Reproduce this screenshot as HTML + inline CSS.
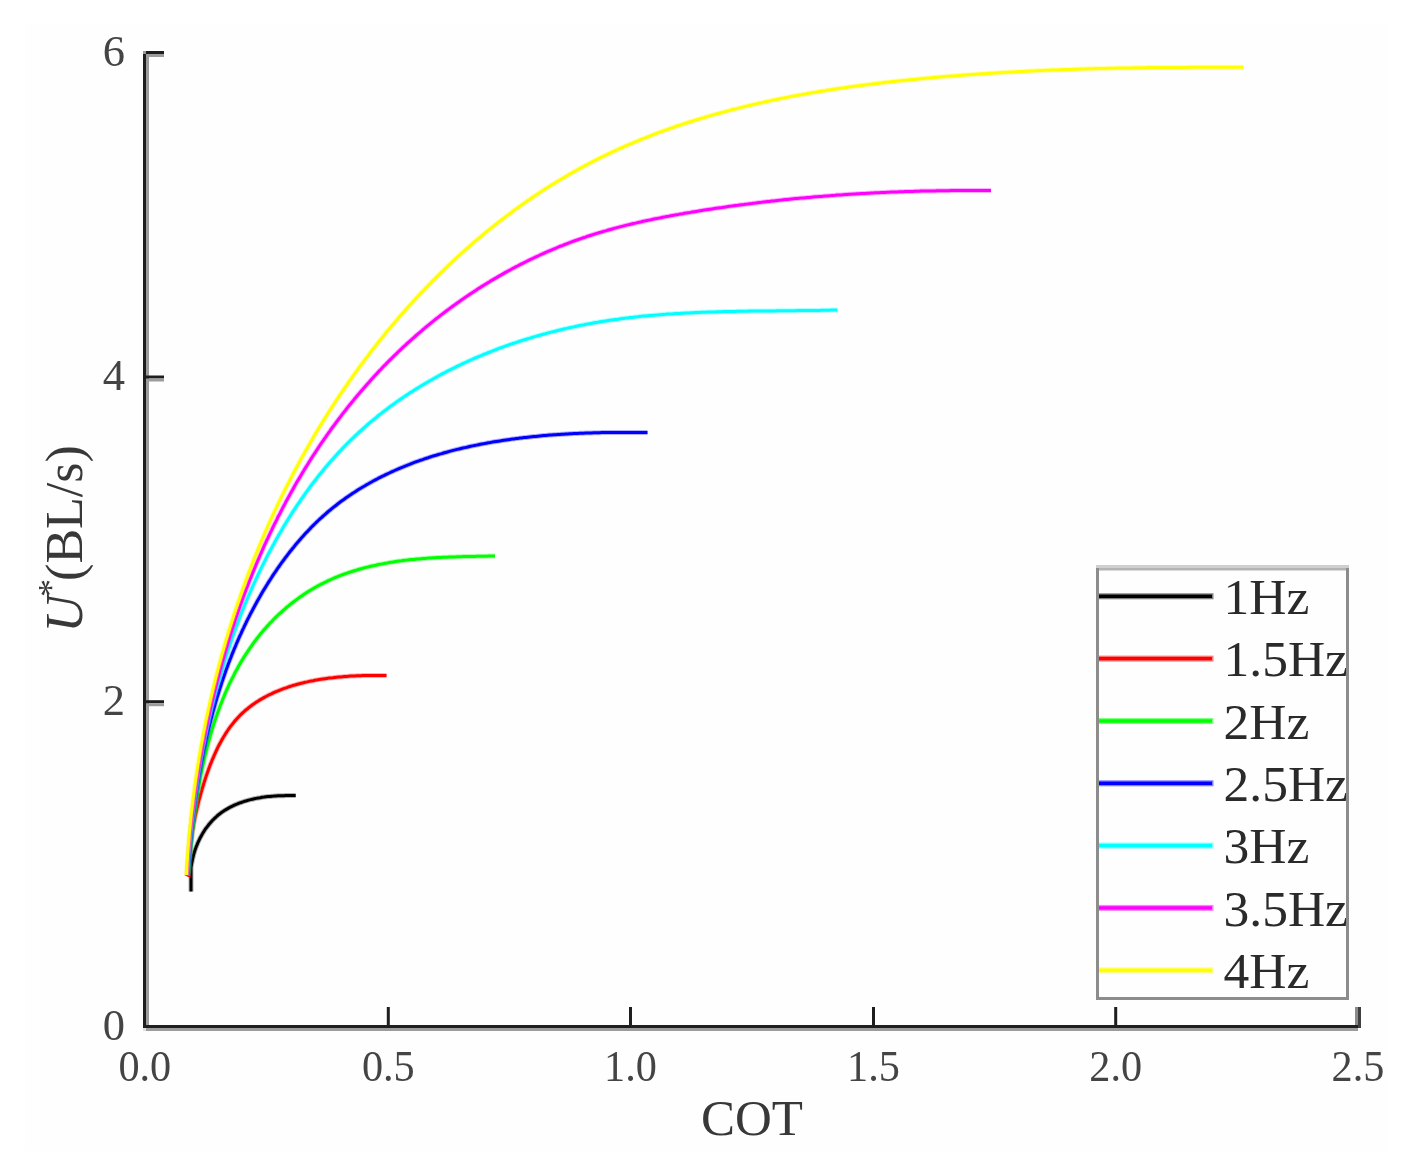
<!DOCTYPE html>
<html><head><meta charset="utf-8"><style>
html,body{margin:0;padding:0;background:#fff;}
body{width:1416px;height:1165px;overflow:hidden;position:relative;}
svg{position:absolute;left:0;top:0;filter:blur(0.5px);}
.tk{font-family:"Liberation Serif",serif;font-size:44.5px;fill:#444;}
.lg{font-family:"Liberation Serif",serif;font-size:51.5px;fill:#2a2a2a;}
.ax{font-family:"Liberation Serif",serif;font-size:51px;fill:#383838;}
</style></head><body>
<svg width="1416" height="1165" viewBox="0 0 1416 1165">
<rect x="25" y="23" width="1363" height="1128" fill="#fefefe"/>
<path d="M191.0 891.5 L191.0 889.5 L191.0 887.6 L191.0 885.6 L191.0 883.6 L191.0 881.6 L191.0 879.7 L191.0 877.7 L191.0 875.7 L191.0 873.7 L191.0 871.8 L191.0 869.8 L191.0 867.8 L191.3 865.8 L191.6 863.9 L192.0 861.9 L192.4 860.0 L192.8 858.1 L193.3 856.2 L193.8 854.2 L194.3 852.4 L194.9 850.5 L195.6 848.6 L196.2 846.7 L197.0 844.9 L197.7 843.1 L198.5 841.3 L199.4 839.5 L200.3 837.7 L201.2 836.0 L202.2 834.3 L203.2 832.6 L204.2 830.9 L205.3 829.2 L206.5 827.6 L207.7 826.1 L208.9 824.5 L210.2 823.0 L211.5 821.5 L212.8 820.1 L214.2 818.7 L215.7 817.3 L217.1 816.0 L218.6 814.7 L220.2 813.5 L221.8 812.3 L223.4 811.2 L225.1 810.1 L226.8 809.1 L228.5 808.1 L230.2 807.2 L232.0 806.3 L233.8 805.4 L235.6 804.6 L237.4 803.9 L239.2 803.1 L241.1 802.5 L243.0 801.8 L244.8 801.2 L246.7 800.7 L248.6 800.1 L250.6 799.6 L252.5 799.2 L254.4 798.8 L256.3 798.4 L258.3 798.0 L260.2 797.7 L262.2 797.3 L264.1 797.1 L266.1 796.8 L268.1 796.6 L270.0 796.4 L272.0 796.2 L274.0 796.1 L275.9 795.9 L277.9 795.8 L279.9 795.8 L281.9 795.7 L283.8 795.7 L285.8 795.6 L287.8 795.6 L289.8 795.6 L291.8 795.6 L293.7 795.6 L295.7 795.6" stroke="#000000" stroke-width="5.0" stroke-opacity="0.3" fill="none" stroke-linejoin="round"/><path d="M191.0 891.5 L191.0 889.5 L191.0 887.6 L191.0 885.6 L191.0 883.6 L191.0 881.6 L191.0 879.7 L191.0 877.7 L191.0 875.7 L191.0 873.7 L191.0 871.8 L191.0 869.8 L191.0 867.8 L191.3 865.8 L191.6 863.9 L192.0 861.9 L192.4 860.0 L192.8 858.1 L193.3 856.2 L193.8 854.2 L194.3 852.4 L194.9 850.5 L195.6 848.6 L196.2 846.7 L197.0 844.9 L197.7 843.1 L198.5 841.3 L199.4 839.5 L200.3 837.7 L201.2 836.0 L202.2 834.3 L203.2 832.6 L204.2 830.9 L205.3 829.2 L206.5 827.6 L207.7 826.1 L208.9 824.5 L210.2 823.0 L211.5 821.5 L212.8 820.1 L214.2 818.7 L215.7 817.3 L217.1 816.0 L218.6 814.7 L220.2 813.5 L221.8 812.3 L223.4 811.2 L225.1 810.1 L226.8 809.1 L228.5 808.1 L230.2 807.2 L232.0 806.3 L233.8 805.4 L235.6 804.6 L237.4 803.9 L239.2 803.1 L241.1 802.5 L243.0 801.8 L244.8 801.2 L246.7 800.7 L248.6 800.1 L250.6 799.6 L252.5 799.2 L254.4 798.8 L256.3 798.4 L258.3 798.0 L260.2 797.7 L262.2 797.3 L264.1 797.1 L266.1 796.8 L268.1 796.6 L270.0 796.4 L272.0 796.2 L274.0 796.1 L275.9 795.9 L277.9 795.8 L279.9 795.8 L281.9 795.7 L283.8 795.7 L285.8 795.6 L287.8 795.6 L289.8 795.6 L291.8 795.6 L293.7 795.6 L295.7 795.6" stroke="#000000" stroke-width="3.0" fill="none" stroke-linejoin="round"/>
<path d="M189.0 877.0 L189.0 875.0 L189.0 873.0 L189.0 871.0 L189.0 869.0 L189.1 867.0 L189.2 865.0 L189.2 863.1 L189.3 861.1 L189.4 859.1 L189.6 857.1 L189.7 855.1 L189.8 853.1 L190.0 851.1 L190.2 849.1 L190.4 847.2 L190.6 845.2 L190.8 843.2 L191.1 841.2 L191.3 839.2 L191.6 837.3 L191.8 835.3 L192.1 833.3 L192.4 831.4 L192.8 829.4 L193.1 827.4 L193.4 825.5 L193.8 823.5 L194.2 821.5 L194.6 819.6 L194.9 817.6 L195.4 815.7 L195.8 813.7 L196.2 811.8 L196.7 809.9 L197.1 807.9 L197.6 806.0 L198.1 804.0 L198.5 802.1 L199.0 800.2 L199.5 798.3 L200.1 796.3 L200.6 794.4 L201.1 792.5 L201.7 790.6 L202.2 788.7 L202.8 786.8 L203.4 784.8 L204.0 782.9 L204.6 781.0 L205.2 779.1 L205.8 777.3 L206.4 775.4 L207.1 773.5 L207.8 771.6 L208.4 769.7 L209.1 767.9 L209.8 766.0 L210.5 764.1 L211.3 762.3 L212.0 760.4 L212.8 758.6 L213.6 756.8 L214.4 754.9 L215.2 753.1 L216.0 751.3 L216.9 749.5 L217.7 747.7 L218.6 745.9 L219.5 744.2 L220.5 742.4 L221.4 740.7 L222.4 738.9 L223.4 737.2 L224.5 735.5 L225.5 733.8 L226.6 732.1 L227.7 730.5 L228.8 728.8 L230.0 727.2 L231.2 725.6 L232.4 724.1 L233.7 722.5 L234.9 721.0 L236.2 719.5 L237.6 718.0 L239.0 716.5 L240.3 715.1 L241.8 713.7 L243.2 712.4 L244.7 711.0 L246.2 709.7 L247.8 708.5 L249.3 707.2 L250.9 706.0 L252.5 704.8 L254.1 703.7 L255.8 702.6 L257.4 701.5 L259.1 700.4 L260.8 699.4 L262.6 698.4 L264.3 697.4 L266.0 696.5 L267.8 695.5 L269.6 694.6 L271.4 693.8 L273.2 692.9 L275.0 692.1 L276.8 691.3 L278.7 690.6 L280.5 689.8 L282.4 689.1 L284.3 688.4 L286.1 687.8 L288.0 687.1 L289.9 686.5 L291.8 685.9 L293.7 685.3 L295.6 684.8 L297.6 684.2 L299.5 683.7 L301.4 683.2 L303.4 682.8 L305.3 682.3 L307.2 681.9 L309.2 681.4 L311.1 681.0 L313.1 680.7 L315.0 680.3 L317.0 679.9 L319.0 679.6 L320.9 679.3 L322.9 679.0 L324.9 678.7 L326.9 678.4 L328.8 678.1 L330.8 677.9 L332.8 677.7 L334.8 677.4 L336.7 677.2 L338.7 677.0 L340.7 676.9 L342.7 676.7 L344.7 676.5 L346.7 676.4 L348.7 676.2 L350.6 676.1 L352.6 676.0 L354.6 675.9 L356.6 675.8 L358.6 675.7 L360.6 675.7 L362.6 675.6 L364.6 675.5 L366.6 675.5 L368.6 675.5 L370.6 675.4 L372.5 675.4 L374.5 675.4 L376.5 675.4 L378.5 675.4 L380.5 675.4 L382.5 675.4 L384.5 675.4 L386.5 675.4" stroke="#ff0000" stroke-width="5.0" stroke-opacity="0.3" fill="none" stroke-linejoin="round"/><path d="M189.0 877.0 L189.0 875.0 L189.0 873.0 L189.0 871.0 L189.0 869.0 L189.1 867.0 L189.2 865.0 L189.2 863.1 L189.3 861.1 L189.4 859.1 L189.6 857.1 L189.7 855.1 L189.8 853.1 L190.0 851.1 L190.2 849.1 L190.4 847.2 L190.6 845.2 L190.8 843.2 L191.1 841.2 L191.3 839.2 L191.6 837.3 L191.8 835.3 L192.1 833.3 L192.4 831.4 L192.8 829.4 L193.1 827.4 L193.4 825.5 L193.8 823.5 L194.2 821.5 L194.6 819.6 L194.9 817.6 L195.4 815.7 L195.8 813.7 L196.2 811.8 L196.7 809.9 L197.1 807.9 L197.6 806.0 L198.1 804.0 L198.5 802.1 L199.0 800.2 L199.5 798.3 L200.1 796.3 L200.6 794.4 L201.1 792.5 L201.7 790.6 L202.2 788.7 L202.8 786.8 L203.4 784.8 L204.0 782.9 L204.6 781.0 L205.2 779.1 L205.8 777.3 L206.4 775.4 L207.1 773.5 L207.8 771.6 L208.4 769.7 L209.1 767.9 L209.8 766.0 L210.5 764.1 L211.3 762.3 L212.0 760.4 L212.8 758.6 L213.6 756.8 L214.4 754.9 L215.2 753.1 L216.0 751.3 L216.9 749.5 L217.7 747.7 L218.6 745.9 L219.5 744.2 L220.5 742.4 L221.4 740.7 L222.4 738.9 L223.4 737.2 L224.5 735.5 L225.5 733.8 L226.6 732.1 L227.7 730.5 L228.8 728.8 L230.0 727.2 L231.2 725.6 L232.4 724.1 L233.7 722.5 L234.9 721.0 L236.2 719.5 L237.6 718.0 L239.0 716.5 L240.3 715.1 L241.8 713.7 L243.2 712.4 L244.7 711.0 L246.2 709.7 L247.8 708.5 L249.3 707.2 L250.9 706.0 L252.5 704.8 L254.1 703.7 L255.8 702.6 L257.4 701.5 L259.1 700.4 L260.8 699.4 L262.6 698.4 L264.3 697.4 L266.0 696.5 L267.8 695.5 L269.6 694.6 L271.4 693.8 L273.2 692.9 L275.0 692.1 L276.8 691.3 L278.7 690.6 L280.5 689.8 L282.4 689.1 L284.3 688.4 L286.1 687.8 L288.0 687.1 L289.9 686.5 L291.8 685.9 L293.7 685.3 L295.6 684.8 L297.6 684.2 L299.5 683.7 L301.4 683.2 L303.4 682.8 L305.3 682.3 L307.2 681.9 L309.2 681.4 L311.1 681.0 L313.1 680.7 L315.0 680.3 L317.0 679.9 L319.0 679.6 L320.9 679.3 L322.9 679.0 L324.9 678.7 L326.9 678.4 L328.8 678.1 L330.8 677.9 L332.8 677.7 L334.8 677.4 L336.7 677.2 L338.7 677.0 L340.7 676.9 L342.7 676.7 L344.7 676.5 L346.7 676.4 L348.7 676.2 L350.6 676.1 L352.6 676.0 L354.6 675.9 L356.6 675.8 L358.6 675.7 L360.6 675.7 L362.6 675.6 L364.6 675.5 L366.6 675.5 L368.6 675.5 L370.6 675.4 L372.5 675.4 L374.5 675.4 L376.5 675.4 L378.5 675.4 L380.5 675.4 L382.5 675.4 L384.5 675.4 L386.5 675.4" stroke="#ff0000" stroke-width="3.0" fill="none" stroke-linejoin="round"/>
<path d="M188.5 876.0 L188.6 874.0 L188.8 872.0 L188.9 870.0 L189.1 868.0 L189.2 866.0 L189.4 864.0 L189.6 862.1 L189.7 860.1 L189.9 858.1 L190.1 856.1 L190.2 854.1 L190.4 852.1 L190.6 850.1 L190.8 848.1 L191.0 846.1 L191.2 844.2 L191.4 842.2 L191.6 840.2 L191.8 838.2 L192.0 836.2 L192.2 834.2 L192.4 832.2 L192.6 830.2 L192.8 828.3 L193.1 826.3 L193.3 824.3 L193.5 822.3 L193.8 820.3 L194.0 818.3 L194.3 816.4 L194.5 814.4 L194.8 812.4 L195.1 810.4 L195.4 808.5 L195.6 806.5 L195.9 804.5 L196.2 802.5 L196.5 800.5 L196.8 798.6 L197.1 796.6 L197.4 794.6 L197.8 792.7 L198.1 790.7 L198.4 788.7 L198.8 786.7 L199.1 784.8 L199.5 782.8 L199.8 780.9 L200.2 778.9 L200.5 776.9 L200.9 775.0 L201.3 773.0 L201.7 771.0 L202.1 769.1 L202.5 767.1 L202.9 765.2 L203.4 763.2 L203.8 761.3 L204.2 759.3 L204.7 757.4 L205.1 755.4 L205.6 753.5 L206.1 751.6 L206.6 749.6 L207.0 747.7 L207.5 745.8 L208.0 743.8 L208.6 741.9 L209.1 740.0 L209.6 738.0 L210.2 736.1 L210.7 734.2 L211.3 732.3 L211.8 730.4 L212.4 728.5 L213.0 726.5 L213.6 724.6 L214.2 722.7 L214.8 720.8 L215.5 718.9 L216.1 717.1 L216.8 715.2 L217.4 713.3 L218.1 711.4 L218.8 709.5 L219.5 707.7 L220.2 705.8 L220.9 703.9 L221.6 702.1 L222.4 700.2 L223.1 698.4 L223.9 696.5 L224.6 694.7 L225.4 692.8 L226.2 691.0 L227.0 689.2 L227.9 687.4 L228.7 685.5 L229.5 683.7 L230.4 681.9 L231.3 680.1 L232.2 678.3 L233.1 676.6 L234.0 674.8 L234.9 673.0 L235.8 671.2 L236.8 669.5 L237.8 667.7 L238.7 666.0 L239.7 664.3 L240.7 662.5 L241.7 660.8 L242.8 659.1 L243.8 657.4 L244.9 655.7 L246.0 654.0 L247.1 652.4 L248.2 650.7 L249.3 649.1 L250.4 647.4 L251.6 645.8 L252.7 644.2 L253.9 642.5 L255.1 640.9 L256.3 639.3 L257.5 637.8 L258.8 636.2 L260.0 634.6 L261.3 633.1 L262.5 631.6 L263.8 630.0 L265.2 628.5 L266.5 627.0 L267.8 625.5 L269.2 624.1 L270.5 622.6 L271.9 621.2 L273.3 619.7 L274.7 618.3 L276.1 616.9 L277.6 615.5 L279.0 614.2 L280.5 612.8 L282.0 611.5 L283.5 610.1 L285.0 608.8 L286.5 607.5 L288.0 606.3 L289.6 605.0 L291.1 603.7 L292.7 602.5 L294.3 601.3 L295.9 600.1 L297.5 598.9 L299.1 597.7 L300.7 596.6 L302.4 595.4 L304.0 594.3 L305.7 593.2 L307.4 592.1 L309.0 591.1 L310.8 590.0 L312.5 589.0 L314.2 588.0 L315.9 587.0 L317.7 586.0 L319.4 585.1 L321.2 584.2 L323.0 583.3 L324.8 582.4 L326.6 581.5 L328.4 580.6 L330.2 579.8 L332.0 579.0 L333.8 578.2 L335.7 577.4 L337.5 576.7 L339.4 575.9 L341.3 575.2 L343.1 574.5 L345.0 573.8 L346.9 573.2 L348.8 572.5 L350.7 571.9 L352.6 571.3 L354.5 570.7 L356.4 570.1 L358.3 569.5 L360.2 569.0 L362.1 568.5 L364.1 567.9 L366.0 567.4 L367.9 567.0 L369.9 566.5 L371.8 566.0 L373.8 565.6 L375.7 565.2 L377.7 564.7 L379.6 564.3 L381.6 564.0 L383.6 563.6 L385.5 563.2 L387.5 562.9 L389.5 562.5 L391.4 562.2 L393.4 561.9 L395.4 561.6 L397.4 561.3 L399.3 561.0 L401.3 560.8 L403.3 560.5 L405.3 560.3 L407.3 560.1 L409.2 559.8 L411.2 559.6 L413.2 559.4 L415.2 559.2 L417.2 559.0 L419.2 558.9 L421.2 558.7 L423.2 558.5 L425.1 558.4 L427.1 558.2 L429.1 558.1 L431.1 558.0 L433.1 557.8 L435.1 557.7 L437.1 557.6 L439.1 557.5 L441.1 557.4 L443.1 557.3 L445.1 557.2 L447.1 557.2 L449.1 557.1 L451.1 557.0 L453.1 556.9 L455.1 556.9 L457.1 556.8 L459.1 556.8 L461.1 556.7 L463.1 556.6 L465.0 556.6 L467.0 556.6 L469.0 556.5 L471.0 556.5 L473.0 556.4 L475.0 556.4 L477.0 556.3 L479.0 556.3 L481.0 556.3 L483.0 556.2 L485.0 556.2 L487.0 556.2 L489.0 556.1 L491.0 556.1 L493.0 556.0 L495.0 556.0" stroke="#00ff00" stroke-width="5.0" stroke-opacity="0.3" fill="none" stroke-linejoin="round"/><path d="M188.5 876.0 L188.6 874.0 L188.8 872.0 L188.9 870.0 L189.1 868.0 L189.2 866.0 L189.4 864.0 L189.6 862.1 L189.7 860.1 L189.9 858.1 L190.1 856.1 L190.2 854.1 L190.4 852.1 L190.6 850.1 L190.8 848.1 L191.0 846.1 L191.2 844.2 L191.4 842.2 L191.6 840.2 L191.8 838.2 L192.0 836.2 L192.2 834.2 L192.4 832.2 L192.6 830.2 L192.8 828.3 L193.1 826.3 L193.3 824.3 L193.5 822.3 L193.8 820.3 L194.0 818.3 L194.3 816.4 L194.5 814.4 L194.8 812.4 L195.1 810.4 L195.4 808.5 L195.6 806.5 L195.9 804.5 L196.2 802.5 L196.5 800.5 L196.8 798.6 L197.1 796.6 L197.4 794.6 L197.8 792.7 L198.1 790.7 L198.4 788.7 L198.8 786.7 L199.1 784.8 L199.5 782.8 L199.8 780.9 L200.2 778.9 L200.5 776.9 L200.9 775.0 L201.3 773.0 L201.7 771.0 L202.1 769.1 L202.5 767.1 L202.9 765.2 L203.4 763.2 L203.8 761.3 L204.2 759.3 L204.7 757.4 L205.1 755.4 L205.6 753.5 L206.1 751.6 L206.6 749.6 L207.0 747.7 L207.5 745.8 L208.0 743.8 L208.6 741.9 L209.1 740.0 L209.6 738.0 L210.2 736.1 L210.7 734.2 L211.3 732.3 L211.8 730.4 L212.4 728.5 L213.0 726.5 L213.6 724.6 L214.2 722.7 L214.8 720.8 L215.5 718.9 L216.1 717.1 L216.8 715.2 L217.4 713.3 L218.1 711.4 L218.8 709.5 L219.5 707.7 L220.2 705.8 L220.9 703.9 L221.6 702.1 L222.4 700.2 L223.1 698.4 L223.9 696.5 L224.6 694.7 L225.4 692.8 L226.2 691.0 L227.0 689.2 L227.9 687.4 L228.7 685.5 L229.5 683.7 L230.4 681.9 L231.3 680.1 L232.2 678.3 L233.1 676.6 L234.0 674.8 L234.9 673.0 L235.8 671.2 L236.8 669.5 L237.8 667.7 L238.7 666.0 L239.7 664.3 L240.7 662.5 L241.7 660.8 L242.8 659.1 L243.8 657.4 L244.9 655.7 L246.0 654.0 L247.1 652.4 L248.2 650.7 L249.3 649.1 L250.4 647.4 L251.6 645.8 L252.7 644.2 L253.9 642.5 L255.1 640.9 L256.3 639.3 L257.5 637.8 L258.8 636.2 L260.0 634.6 L261.3 633.1 L262.5 631.6 L263.8 630.0 L265.2 628.5 L266.5 627.0 L267.8 625.5 L269.2 624.1 L270.5 622.6 L271.9 621.2 L273.3 619.7 L274.7 618.3 L276.1 616.9 L277.6 615.5 L279.0 614.2 L280.5 612.8 L282.0 611.5 L283.5 610.1 L285.0 608.8 L286.5 607.5 L288.0 606.3 L289.6 605.0 L291.1 603.7 L292.7 602.5 L294.3 601.3 L295.9 600.1 L297.5 598.9 L299.1 597.7 L300.7 596.6 L302.4 595.4 L304.0 594.3 L305.7 593.2 L307.4 592.1 L309.0 591.1 L310.8 590.0 L312.5 589.0 L314.2 588.0 L315.9 587.0 L317.7 586.0 L319.4 585.1 L321.2 584.2 L323.0 583.3 L324.8 582.4 L326.6 581.5 L328.4 580.6 L330.2 579.8 L332.0 579.0 L333.8 578.2 L335.7 577.4 L337.5 576.7 L339.4 575.9 L341.3 575.2 L343.1 574.5 L345.0 573.8 L346.9 573.2 L348.8 572.5 L350.7 571.9 L352.6 571.3 L354.5 570.7 L356.4 570.1 L358.3 569.5 L360.2 569.0 L362.1 568.5 L364.1 567.9 L366.0 567.4 L367.9 567.0 L369.9 566.5 L371.8 566.0 L373.8 565.6 L375.7 565.2 L377.7 564.7 L379.6 564.3 L381.6 564.0 L383.6 563.6 L385.5 563.2 L387.5 562.9 L389.5 562.5 L391.4 562.2 L393.4 561.9 L395.4 561.6 L397.4 561.3 L399.3 561.0 L401.3 560.8 L403.3 560.5 L405.3 560.3 L407.3 560.1 L409.2 559.8 L411.2 559.6 L413.2 559.4 L415.2 559.2 L417.2 559.0 L419.2 558.9 L421.2 558.7 L423.2 558.5 L425.1 558.4 L427.1 558.2 L429.1 558.1 L431.1 558.0 L433.1 557.8 L435.1 557.7 L437.1 557.6 L439.1 557.5 L441.1 557.4 L443.1 557.3 L445.1 557.2 L447.1 557.2 L449.1 557.1 L451.1 557.0 L453.1 556.9 L455.1 556.9 L457.1 556.8 L459.1 556.8 L461.1 556.7 L463.1 556.6 L465.0 556.6 L467.0 556.6 L469.0 556.5 L471.0 556.5 L473.0 556.4 L475.0 556.4 L477.0 556.3 L479.0 556.3 L481.0 556.3 L483.0 556.2 L485.0 556.2 L487.0 556.2 L489.0 556.1 L491.0 556.1 L493.0 556.0 L495.0 556.0" stroke="#00ff00" stroke-width="3.0" fill="none" stroke-linejoin="round"/>
<path d="M188.0 876.0 L188.1 874.0 L188.3 872.0 L188.4 870.0 L188.5 868.0 L188.7 866.0 L188.8 864.0 L189.0 862.1 L189.1 860.1 L189.3 858.1 L189.4 856.1 L189.6 854.1 L189.7 852.1 L189.9 850.1 L190.1 848.1 L190.2 846.1 L190.4 844.1 L190.6 842.2 L190.8 840.2 L191.0 838.2 L191.2 836.2 L191.4 834.2 L191.6 832.2 L191.8 830.2 L192.0 828.3 L192.2 826.3 L192.4 824.3 L192.6 822.3 L192.8 820.3 L193.1 818.3 L193.3 816.3 L193.5 814.4 L193.8 812.4 L194.0 810.4 L194.3 808.4 L194.5 806.4 L194.8 804.5 L195.1 802.5 L195.3 800.5 L195.6 798.5 L195.9 796.5 L196.2 794.6 L196.4 792.6 L196.7 790.6 L197.0 788.6 L197.3 786.7 L197.6 784.7 L197.9 782.7 L198.3 780.8 L198.6 778.8 L198.9 776.8 L199.2 774.8 L199.6 772.9 L199.9 770.9 L200.3 768.9 L200.6 767.0 L201.0 765.0 L201.3 763.1 L201.7 761.1 L202.1 759.1 L202.5 757.2 L202.8 755.2 L203.2 753.3 L203.6 751.3 L204.0 749.3 L204.4 747.4 L204.9 745.4 L205.3 743.5 L205.7 741.5 L206.1 739.6 L206.6 737.6 L207.0 735.7 L207.5 733.7 L207.9 731.8 L208.4 729.9 L208.8 727.9 L209.3 726.0 L209.8 724.0 L210.3 722.1 L210.8 720.2 L211.3 718.2 L211.8 716.3 L212.3 714.4 L212.8 712.4 L213.3 710.5 L213.9 708.6 L214.4 706.7 L215.0 704.7 L215.5 702.8 L216.1 700.9 L216.6 699.0 L217.2 697.1 L217.8 695.2 L218.4 693.3 L219.0 691.4 L219.6 689.5 L220.2 687.6 L220.8 685.7 L221.4 683.8 L222.0 681.9 L222.7 680.0 L223.3 678.1 L224.0 676.2 L224.6 674.3 L225.3 672.4 L225.9 670.5 L226.6 668.7 L227.3 666.8 L228.0 664.9 L228.7 663.0 L229.4 661.2 L230.1 659.3 L230.9 657.5 L231.6 655.6 L232.3 653.7 L233.1 651.9 L233.8 650.0 L234.6 648.2 L235.4 646.4 L236.1 644.5 L236.9 642.7 L237.7 640.8 L238.5 639.0 L239.3 637.2 L240.1 635.4 L241.0 633.6 L241.8 631.7 L242.6 629.9 L243.5 628.1 L244.3 626.3 L245.2 624.5 L246.1 622.7 L246.9 620.9 L247.8 619.1 L248.7 617.4 L249.6 615.6 L250.5 613.8 L251.5 612.0 L252.4 610.3 L253.3 608.5 L254.3 606.7 L255.2 605.0 L256.2 603.2 L257.1 601.5 L258.1 599.7 L259.1 598.0 L260.1 596.3 L261.1 594.5 L262.1 592.8 L263.1 591.1 L264.1 589.4 L265.2 587.7 L266.2 586.0 L267.3 584.3 L268.3 582.6 L269.4 580.9 L270.5 579.2 L271.6 577.5 L272.6 575.9 L273.7 574.2 L274.9 572.5 L276.0 570.9 L277.1 569.2 L278.2 567.6 L279.4 566.0 L280.5 564.3 L281.7 562.7 L282.9 561.1 L284.1 559.5 L285.2 557.9 L286.5 556.3 L287.7 554.7 L288.9 553.1 L290.1 551.5 L291.4 550.0 L292.6 548.4 L293.9 546.9 L295.1 545.3 L296.4 543.8 L297.7 542.3 L299.0 540.8 L300.3 539.3 L301.6 537.8 L303.0 536.3 L304.3 534.8 L305.6 533.3 L307.0 531.9 L308.4 530.4 L309.8 529.0 L311.1 527.5 L312.5 526.1 L314.0 524.7 L315.4 523.3 L316.8 521.9 L318.3 520.5 L319.7 519.2 L321.2 517.8 L322.7 516.5 L324.2 515.2 L325.7 513.8 L327.2 512.5 L328.7 511.2 L330.2 510.0 L331.8 508.7 L333.3 507.4 L334.9 506.2 L336.5 505.0 L338.0 503.7 L339.6 502.5 L341.2 501.3 L342.8 500.2 L344.5 499.0 L346.1 497.8 L347.7 496.7 L349.4 495.6 L351.0 494.5 L352.7 493.3 L354.4 492.3 L356.0 491.2 L357.7 490.1 L359.4 489.0 L361.1 488.0 L362.8 487.0 L364.6 486.0 L366.3 484.9 L368.0 484.0 L369.7 483.0 L371.5 482.0 L373.2 481.0 L375.0 480.1 L376.8 479.2 L378.5 478.2 L380.3 477.3 L382.1 476.4 L383.9 475.6 L385.7 474.7 L387.5 473.8 L389.3 473.0 L391.1 472.1 L392.9 471.3 L394.7 470.5 L396.6 469.7 L398.4 468.9 L400.2 468.1 L402.1 467.3 L403.9 466.6 L405.8 465.8 L407.6 465.1 L409.5 464.4 L411.4 463.6 L413.2 462.9 L415.1 462.2 L417.0 461.5 L418.8 460.9 L420.7 460.2 L422.6 459.6 L424.5 458.9 L426.4 458.3 L428.3 457.7 L430.2 457.0 L432.1 456.4 L434.0 455.8 L435.9 455.3 L437.8 454.7 L439.7 454.1 L441.7 453.6 L443.6 453.0 L445.5 452.5 L447.4 452.0 L449.4 451.4 L451.3 450.9 L453.2 450.4 L455.2 449.9 L457.1 449.4 L459.0 449.0 L461.0 448.5 L462.9 448.0 L464.9 447.6 L466.8 447.2 L468.8 446.7 L470.7 446.3 L472.7 445.9 L474.6 445.5 L476.6 445.1 L478.5 444.7 L480.5 444.3 L482.4 443.9 L484.4 443.6 L486.4 443.2 L488.3 442.8 L490.3 442.5 L492.3 442.1 L494.2 441.8 L496.2 441.5 L498.2 441.2 L500.1 440.9 L502.1 440.6 L504.1 440.3 L506.1 440.0 L508.0 439.7 L510.0 439.4 L512.0 439.1 L514.0 438.9 L516.0 438.6 L517.9 438.4 L519.9 438.1 L521.9 437.9 L523.9 437.6 L525.9 437.4 L527.9 437.2 L529.8 437.0 L531.8 436.8 L533.8 436.6 L535.8 436.4 L537.8 436.2 L539.8 436.0 L541.8 435.8 L543.8 435.6 L545.7 435.5 L547.7 435.3 L549.7 435.1 L551.7 435.0 L553.7 434.8 L555.7 434.7 L557.7 434.5 L559.7 434.4 L561.7 434.3 L563.7 434.2 L565.7 434.0 L567.6 433.9 L569.6 433.8 L571.6 433.7 L573.6 433.6 L575.6 433.5 L577.6 433.4 L579.6 433.3 L581.6 433.2 L583.6 433.2 L585.6 433.1 L587.6 433.0 L589.6 433.0 L591.6 432.9 L593.6 432.8 L595.6 432.8 L597.6 432.7 L599.6 432.7 L601.6 432.6 L603.6 432.6 L605.6 432.6 L607.5 432.5 L609.5 432.5 L611.5 432.5 L613.5 432.4 L615.5 432.4 L617.5 432.4 L619.5 432.4 L621.5 432.4 L623.5 432.4 L625.5 432.4 L627.5 432.4 L629.5 432.4 L631.5 432.4 L633.5 432.4 L635.5 432.4 L637.5 432.4 L639.5 432.4 L641.5 432.4 L643.5 432.4 L645.5 432.4 L647.5 432.4" stroke="#0000ff" stroke-width="5.0" stroke-opacity="0.3" fill="none" stroke-linejoin="round"/><path d="M188.0 876.0 L188.1 874.0 L188.3 872.0 L188.4 870.0 L188.5 868.0 L188.7 866.0 L188.8 864.0 L189.0 862.1 L189.1 860.1 L189.3 858.1 L189.4 856.1 L189.6 854.1 L189.7 852.1 L189.9 850.1 L190.1 848.1 L190.2 846.1 L190.4 844.1 L190.6 842.2 L190.8 840.2 L191.0 838.2 L191.2 836.2 L191.4 834.2 L191.6 832.2 L191.8 830.2 L192.0 828.3 L192.2 826.3 L192.4 824.3 L192.6 822.3 L192.8 820.3 L193.1 818.3 L193.3 816.3 L193.5 814.4 L193.8 812.4 L194.0 810.4 L194.3 808.4 L194.5 806.4 L194.8 804.5 L195.1 802.5 L195.3 800.5 L195.6 798.5 L195.9 796.5 L196.2 794.6 L196.4 792.6 L196.7 790.6 L197.0 788.6 L197.3 786.7 L197.6 784.7 L197.9 782.7 L198.3 780.8 L198.6 778.8 L198.9 776.8 L199.2 774.8 L199.6 772.9 L199.9 770.9 L200.3 768.9 L200.6 767.0 L201.0 765.0 L201.3 763.1 L201.7 761.1 L202.1 759.1 L202.5 757.2 L202.8 755.2 L203.2 753.3 L203.6 751.3 L204.0 749.3 L204.4 747.4 L204.9 745.4 L205.3 743.5 L205.7 741.5 L206.1 739.6 L206.6 737.6 L207.0 735.7 L207.5 733.7 L207.9 731.8 L208.4 729.9 L208.8 727.9 L209.3 726.0 L209.8 724.0 L210.3 722.1 L210.8 720.2 L211.3 718.2 L211.8 716.3 L212.3 714.4 L212.8 712.4 L213.3 710.5 L213.9 708.6 L214.4 706.7 L215.0 704.7 L215.5 702.8 L216.1 700.9 L216.6 699.0 L217.2 697.1 L217.8 695.2 L218.4 693.3 L219.0 691.4 L219.6 689.5 L220.2 687.6 L220.8 685.7 L221.4 683.8 L222.0 681.9 L222.7 680.0 L223.3 678.1 L224.0 676.2 L224.6 674.3 L225.3 672.4 L225.9 670.5 L226.6 668.7 L227.3 666.8 L228.0 664.9 L228.7 663.0 L229.4 661.2 L230.1 659.3 L230.9 657.5 L231.6 655.6 L232.3 653.7 L233.1 651.9 L233.8 650.0 L234.6 648.2 L235.4 646.4 L236.1 644.5 L236.9 642.7 L237.7 640.8 L238.5 639.0 L239.3 637.2 L240.1 635.4 L241.0 633.6 L241.8 631.7 L242.6 629.9 L243.5 628.1 L244.3 626.3 L245.2 624.5 L246.1 622.7 L246.9 620.9 L247.8 619.1 L248.7 617.4 L249.6 615.6 L250.5 613.8 L251.5 612.0 L252.4 610.3 L253.3 608.5 L254.3 606.7 L255.2 605.0 L256.2 603.2 L257.1 601.5 L258.1 599.7 L259.1 598.0 L260.1 596.3 L261.1 594.5 L262.1 592.8 L263.1 591.1 L264.1 589.4 L265.2 587.7 L266.2 586.0 L267.3 584.3 L268.3 582.6 L269.4 580.9 L270.5 579.2 L271.6 577.5 L272.6 575.9 L273.7 574.2 L274.9 572.5 L276.0 570.9 L277.1 569.2 L278.2 567.6 L279.4 566.0 L280.5 564.3 L281.7 562.7 L282.9 561.1 L284.1 559.5 L285.2 557.9 L286.5 556.3 L287.7 554.7 L288.9 553.1 L290.1 551.5 L291.4 550.0 L292.6 548.4 L293.9 546.9 L295.1 545.3 L296.4 543.8 L297.7 542.3 L299.0 540.8 L300.3 539.3 L301.6 537.8 L303.0 536.3 L304.3 534.8 L305.6 533.3 L307.0 531.9 L308.4 530.4 L309.8 529.0 L311.1 527.5 L312.5 526.1 L314.0 524.7 L315.4 523.3 L316.8 521.9 L318.3 520.5 L319.7 519.2 L321.2 517.8 L322.7 516.5 L324.2 515.2 L325.7 513.8 L327.2 512.5 L328.7 511.2 L330.2 510.0 L331.8 508.7 L333.3 507.4 L334.9 506.2 L336.5 505.0 L338.0 503.7 L339.6 502.5 L341.2 501.3 L342.8 500.2 L344.5 499.0 L346.1 497.8 L347.7 496.7 L349.4 495.6 L351.0 494.5 L352.7 493.3 L354.4 492.3 L356.0 491.2 L357.7 490.1 L359.4 489.0 L361.1 488.0 L362.8 487.0 L364.6 486.0 L366.3 484.9 L368.0 484.0 L369.7 483.0 L371.5 482.0 L373.2 481.0 L375.0 480.1 L376.8 479.2 L378.5 478.2 L380.3 477.3 L382.1 476.4 L383.9 475.6 L385.7 474.7 L387.5 473.8 L389.3 473.0 L391.1 472.1 L392.9 471.3 L394.7 470.5 L396.6 469.7 L398.4 468.9 L400.2 468.1 L402.1 467.3 L403.9 466.6 L405.8 465.8 L407.6 465.1 L409.5 464.4 L411.4 463.6 L413.2 462.9 L415.1 462.2 L417.0 461.5 L418.8 460.9 L420.7 460.2 L422.6 459.6 L424.5 458.9 L426.4 458.3 L428.3 457.7 L430.2 457.0 L432.1 456.4 L434.0 455.8 L435.9 455.3 L437.8 454.7 L439.7 454.1 L441.7 453.6 L443.6 453.0 L445.5 452.5 L447.4 452.0 L449.4 451.4 L451.3 450.9 L453.2 450.4 L455.2 449.9 L457.1 449.4 L459.0 449.0 L461.0 448.5 L462.9 448.0 L464.9 447.6 L466.8 447.2 L468.8 446.7 L470.7 446.3 L472.7 445.9 L474.6 445.5 L476.6 445.1 L478.5 444.7 L480.5 444.3 L482.4 443.9 L484.4 443.6 L486.4 443.2 L488.3 442.8 L490.3 442.5 L492.3 442.1 L494.2 441.8 L496.2 441.5 L498.2 441.2 L500.1 440.9 L502.1 440.6 L504.1 440.3 L506.1 440.0 L508.0 439.7 L510.0 439.4 L512.0 439.1 L514.0 438.9 L516.0 438.6 L517.9 438.4 L519.9 438.1 L521.9 437.9 L523.9 437.6 L525.9 437.4 L527.9 437.2 L529.8 437.0 L531.8 436.8 L533.8 436.6 L535.8 436.4 L537.8 436.2 L539.8 436.0 L541.8 435.8 L543.8 435.6 L545.7 435.5 L547.7 435.3 L549.7 435.1 L551.7 435.0 L553.7 434.8 L555.7 434.7 L557.7 434.5 L559.7 434.4 L561.7 434.3 L563.7 434.2 L565.7 434.0 L567.6 433.9 L569.6 433.8 L571.6 433.7 L573.6 433.6 L575.6 433.5 L577.6 433.4 L579.6 433.3 L581.6 433.2 L583.6 433.2 L585.6 433.1 L587.6 433.0 L589.6 433.0 L591.6 432.9 L593.6 432.8 L595.6 432.8 L597.6 432.7 L599.6 432.7 L601.6 432.6 L603.6 432.6 L605.6 432.6 L607.5 432.5 L609.5 432.5 L611.5 432.5 L613.5 432.4 L615.5 432.4 L617.5 432.4 L619.5 432.4 L621.5 432.4 L623.5 432.4 L625.5 432.4 L627.5 432.4 L629.5 432.4 L631.5 432.4 L633.5 432.4 L635.5 432.4 L637.5 432.4 L639.5 432.4 L641.5 432.4 L643.5 432.4 L645.5 432.4 L647.5 432.4" stroke="#0000ff" stroke-width="3.0" fill="none" stroke-linejoin="round"/>
<path d="M187.5 876.0 L187.6 874.0 L187.8 872.0 L187.9 870.0 L188.0 868.0 L188.2 866.0 L188.3 864.0 L188.5 862.0 L188.6 860.0 L188.8 858.0 L188.9 856.0 L189.1 854.1 L189.2 852.1 L189.4 850.1 L189.6 848.1 L189.8 846.1 L189.9 844.1 L190.1 842.1 L190.3 840.1 L190.5 838.1 L190.7 836.1 L190.9 834.1 L191.1 832.2 L191.3 830.2 L191.5 828.2 L191.7 826.2 L191.9 824.2 L192.1 822.2 L192.3 820.2 L192.6 818.2 L192.8 816.2 L193.0 814.3 L193.3 812.3 L193.5 810.3 L193.7 808.3 L194.0 806.3 L194.2 804.3 L194.5 802.4 L194.8 800.4 L195.0 798.4 L195.3 796.4 L195.6 794.4 L195.8 792.4 L196.1 790.5 L196.4 788.5 L196.7 786.5 L197.0 784.5 L197.3 782.6 L197.6 780.6 L197.9 778.6 L198.2 776.6 L198.5 774.6 L198.8 772.7 L199.1 770.7 L199.5 768.7 L199.8 766.8 L200.1 764.8 L200.5 762.8 L200.8 760.8 L201.1 758.9 L201.5 756.9 L201.9 754.9 L202.2 753.0 L202.6 751.0 L202.9 749.0 L203.3 747.1 L203.7 745.1 L204.1 743.1 L204.5 741.2 L204.9 739.2 L205.2 737.3 L205.6 735.3 L206.1 733.3 L206.5 731.4 L206.9 729.4 L207.3 727.5 L207.7 725.5 L208.1 723.6 L208.6 721.6 L209.0 719.7 L209.5 717.7 L209.9 715.8 L210.4 713.8 L210.8 711.9 L211.3 709.9 L211.7 708.0 L212.2 706.0 L212.7 704.1 L213.2 702.2 L213.7 700.2 L214.1 698.3 L214.6 696.3 L215.1 694.4 L215.7 692.5 L216.2 690.5 L216.7 688.6 L217.2 686.7 L217.7 684.8 L218.3 682.8 L218.8 680.9 L219.3 679.0 L219.9 677.0 L220.4 675.1 L221.0 673.2 L221.6 671.3 L222.1 669.4 L222.7 667.5 L223.3 665.5 L223.9 663.6 L224.4 661.7 L225.0 659.8 L225.6 657.9 L226.2 656.0 L226.9 654.1 L227.5 652.2 L228.1 650.3 L228.7 648.4 L229.4 646.5 L230.0 644.6 L230.6 642.7 L231.3 640.8 L231.9 638.9 L232.6 637.0 L233.3 635.1 L233.9 633.3 L234.6 631.4 L235.3 629.5 L236.0 627.6 L236.7 625.7 L237.4 623.9 L238.1 622.0 L238.8 620.1 L239.5 618.3 L240.2 616.4 L240.9 614.5 L241.7 612.7 L242.4 610.8 L243.1 609.0 L243.9 607.1 L244.6 605.3 L245.4 603.4 L246.2 601.6 L246.9 599.7 L247.7 597.9 L248.5 596.0 L249.3 594.2 L250.1 592.4 L250.9 590.5 L251.7 588.7 L252.5 586.9 L253.3 585.0 L254.1 583.2 L255.0 581.4 L255.8 579.6 L256.6 577.8 L257.5 576.0 L258.3 574.1 L259.2 572.3 L260.1 570.5 L260.9 568.7 L261.8 566.9 L262.7 565.1 L263.6 563.4 L264.5 561.6 L265.4 559.8 L266.3 558.0 L267.2 556.2 L268.1 554.4 L269.0 552.7 L270.0 550.9 L270.9 549.1 L271.9 547.4 L272.8 545.6 L273.8 543.9 L274.7 542.1 L275.7 540.4 L276.7 538.6 L277.7 536.9 L278.7 535.1 L279.7 533.4 L280.7 531.7 L281.7 530.0 L282.7 528.2 L283.7 526.5 L284.7 524.8 L285.8 523.1 L286.8 521.4 L287.9 519.7 L288.9 518.0 L290.0 516.3 L291.1 514.6 L292.1 512.9 L293.2 511.2 L294.3 509.6 L295.4 507.9 L296.5 506.2 L297.6 504.6 L298.8 502.9 L299.9 501.3 L301.0 499.6 L302.2 498.0 L303.3 496.3 L304.5 494.7 L305.6 493.1 L306.8 491.5 L308.0 489.8 L309.2 488.2 L310.3 486.6 L311.5 485.0 L312.7 483.4 L314.0 481.8 L315.2 480.3 L316.4 478.7 L317.6 477.1 L318.9 475.5 L320.1 474.0 L321.4 472.4 L322.7 470.9 L323.9 469.3 L325.2 467.8 L326.5 466.3 L327.8 464.7 L329.1 463.2 L330.4 461.7 L331.7 460.2 L333.1 458.7 L334.4 457.2 L335.7 455.7 L337.1 454.3 L338.4 452.8 L339.8 451.3 L341.2 449.9 L342.5 448.4 L343.9 447.0 L345.3 445.6 L346.7 444.1 L348.1 442.7 L349.6 441.3 L351.0 439.9 L352.4 438.5 L353.9 437.1 L355.3 435.7 L356.8 434.4 L358.2 433.0 L359.7 431.7 L361.2 430.3 L362.7 429.0 L364.2 427.6 L365.7 426.3 L367.2 425.0 L368.7 423.7 L370.2 422.4 L371.7 421.1 L373.3 419.8 L374.8 418.6 L376.4 417.3 L377.9 416.0 L379.5 414.8 L381.1 413.6 L382.6 412.3 L384.2 411.1 L385.8 409.9 L387.4 408.7 L389.0 407.5 L390.6 406.3 L392.2 405.1 L393.8 403.9 L395.5 402.8 L397.1 401.6 L398.7 400.5 L400.4 399.3 L402.0 398.2 L403.7 397.1 L405.3 395.9 L407.0 394.8 L408.7 393.7 L410.3 392.6 L412.0 391.6 L413.7 390.5 L415.4 389.4 L417.1 388.4 L418.8 387.3 L420.5 386.3 L422.2 385.2 L423.9 384.2 L425.6 383.2 L427.4 382.2 L429.1 381.2 L430.8 380.2 L432.6 379.2 L434.3 378.2 L436.1 377.2 L437.8 376.3 L439.6 375.3 L441.3 374.4 L443.1 373.4 L444.9 372.5 L446.6 371.6 L448.4 370.7 L450.2 369.8 L452.0 368.9 L453.8 368.0 L455.6 367.1 L457.4 366.2 L459.2 365.4 L461.0 364.5 L462.8 363.6 L464.6 362.8 L466.4 362.0 L468.2 361.1 L470.1 360.3 L471.9 359.5 L473.7 358.7 L475.5 357.9 L477.4 357.1 L479.2 356.3 L481.1 355.6 L482.9 354.8 L484.8 354.0 L486.6 353.3 L488.5 352.5 L490.3 351.8 L492.2 351.1 L494.1 350.3 L495.9 349.6 L497.8 348.9 L499.7 348.2 L501.5 347.5 L503.4 346.9 L505.3 346.2 L507.2 345.5 L509.1 344.8 L511.0 344.2 L512.9 343.5 L514.8 342.9 L516.6 342.3 L518.5 341.6 L520.5 341.0 L522.4 340.4 L524.3 339.8 L526.2 339.2 L528.1 338.6 L530.0 338.1 L531.9 337.5 L533.8 336.9 L535.7 336.4 L537.7 335.8 L539.6 335.3 L541.5 334.7 L543.4 334.2 L545.4 333.7 L547.3 333.1 L549.2 332.6 L551.2 332.1 L553.1 331.6 L555.1 331.2 L557.0 330.7 L558.9 330.2 L560.9 329.7 L562.8 329.3 L564.8 328.8 L566.7 328.4 L568.7 327.9 L570.6 327.5 L572.6 327.1 L574.5 326.7 L576.5 326.2 L578.5 325.8 L580.4 325.4 L582.4 325.0 L584.3 324.7 L586.3 324.3 L588.3 323.9 L590.2 323.6 L592.2 323.2 L594.2 322.8 L596.1 322.5 L598.1 322.2 L600.1 321.8 L602.0 321.5 L604.0 321.2 L606.0 320.9 L608.0 320.6 L610.0 320.3 L611.9 320.0 L613.9 319.7 L615.9 319.4 L617.9 319.2 L619.9 318.9 L621.8 318.6 L623.8 318.4 L625.8 318.1 L627.8 317.9 L629.8 317.6 L631.8 317.4 L633.7 317.2 L635.7 317.0 L637.7 316.8 L639.7 316.5 L641.7 316.3 L643.7 316.1 L645.7 316.0 L647.7 315.8 L649.7 315.6 L651.7 315.4 L653.6 315.2 L655.6 315.1 L657.6 314.9 L659.6 314.7 L661.6 314.6 L663.6 314.4 L665.6 314.3 L667.6 314.1 L669.6 314.0 L671.6 313.9 L673.6 313.7 L675.6 313.6 L677.6 313.5 L679.6 313.4 L681.6 313.3 L683.6 313.2 L685.6 313.1 L687.6 313.0 L689.6 312.9 L691.6 312.8 L693.6 312.7 L695.5 312.6 L697.5 312.5 L699.5 312.4 L701.5 312.3 L703.5 312.3 L705.5 312.2 L707.5 312.1 L709.5 312.0 L711.5 312.0 L713.5 311.9 L715.5 311.9 L717.5 311.8 L719.5 311.7 L721.5 311.7 L723.5 311.6 L725.5 311.6 L727.5 311.5 L729.5 311.5 L731.5 311.5 L733.5 311.4 L735.5 311.4 L737.5 311.3 L739.5 311.3 L741.5 311.3 L743.5 311.2 L745.5 311.2 L747.5 311.2 L749.5 311.1 L751.5 311.1 L753.5 311.1 L755.5 311.1 L757.5 311.0 L759.5 311.0 L761.5 311.0 L763.5 311.0 L765.5 311.0 L767.5 310.9 L769.5 310.9 L771.5 310.9 L773.5 310.9 L775.5 310.9 L777.5 310.8 L779.5 310.8 L781.5 310.8 L783.5 310.8 L785.5 310.8 L787.5 310.7 L789.5 310.7 L791.5 310.7 L793.5 310.7 L795.5 310.7 L797.5 310.6 L799.5 310.6 L801.5 310.6 L803.5 310.6 L805.5 310.5 L807.5 310.5 L809.5 310.5 L811.5 310.5 L813.5 310.4 L815.5 310.4 L817.5 310.4 L819.5 310.4 L821.5 310.3 L823.5 310.3 L825.5 310.2 L827.5 310.2 L829.5 310.2 L831.5 310.1 L833.5 310.1 L835.5 310.0 L837.5 310.0" stroke="#00ffff" stroke-width="5.0" stroke-opacity="0.3" fill="none" stroke-linejoin="round"/><path d="M187.5 876.0 L187.6 874.0 L187.8 872.0 L187.9 870.0 L188.0 868.0 L188.2 866.0 L188.3 864.0 L188.5 862.0 L188.6 860.0 L188.8 858.0 L188.9 856.0 L189.1 854.1 L189.2 852.1 L189.4 850.1 L189.6 848.1 L189.8 846.1 L189.9 844.1 L190.1 842.1 L190.3 840.1 L190.5 838.1 L190.7 836.1 L190.9 834.1 L191.1 832.2 L191.3 830.2 L191.5 828.2 L191.7 826.2 L191.9 824.2 L192.1 822.2 L192.3 820.2 L192.6 818.2 L192.8 816.2 L193.0 814.3 L193.3 812.3 L193.5 810.3 L193.7 808.3 L194.0 806.3 L194.2 804.3 L194.5 802.4 L194.8 800.4 L195.0 798.4 L195.3 796.4 L195.6 794.4 L195.8 792.4 L196.1 790.5 L196.4 788.5 L196.7 786.5 L197.0 784.5 L197.3 782.6 L197.6 780.6 L197.9 778.6 L198.2 776.6 L198.5 774.6 L198.8 772.7 L199.1 770.7 L199.5 768.7 L199.8 766.8 L200.1 764.8 L200.5 762.8 L200.8 760.8 L201.1 758.9 L201.5 756.9 L201.9 754.9 L202.2 753.0 L202.6 751.0 L202.9 749.0 L203.3 747.1 L203.7 745.1 L204.1 743.1 L204.5 741.2 L204.9 739.2 L205.2 737.3 L205.6 735.3 L206.1 733.3 L206.5 731.4 L206.9 729.4 L207.3 727.5 L207.7 725.5 L208.1 723.6 L208.6 721.6 L209.0 719.7 L209.5 717.7 L209.9 715.8 L210.4 713.8 L210.8 711.9 L211.3 709.9 L211.7 708.0 L212.2 706.0 L212.7 704.1 L213.2 702.2 L213.7 700.2 L214.1 698.3 L214.6 696.3 L215.1 694.4 L215.7 692.5 L216.2 690.5 L216.7 688.6 L217.2 686.7 L217.7 684.8 L218.3 682.8 L218.8 680.9 L219.3 679.0 L219.9 677.0 L220.4 675.1 L221.0 673.2 L221.6 671.3 L222.1 669.4 L222.7 667.5 L223.3 665.5 L223.9 663.6 L224.4 661.7 L225.0 659.8 L225.6 657.9 L226.2 656.0 L226.9 654.1 L227.5 652.2 L228.1 650.3 L228.7 648.4 L229.4 646.5 L230.0 644.6 L230.6 642.7 L231.3 640.8 L231.9 638.9 L232.6 637.0 L233.3 635.1 L233.9 633.3 L234.6 631.4 L235.3 629.5 L236.0 627.6 L236.7 625.7 L237.4 623.9 L238.1 622.0 L238.8 620.1 L239.5 618.3 L240.2 616.4 L240.9 614.5 L241.7 612.7 L242.4 610.8 L243.1 609.0 L243.9 607.1 L244.6 605.3 L245.4 603.4 L246.2 601.6 L246.9 599.7 L247.7 597.9 L248.5 596.0 L249.3 594.2 L250.1 592.4 L250.9 590.5 L251.7 588.7 L252.5 586.9 L253.3 585.0 L254.1 583.2 L255.0 581.4 L255.8 579.6 L256.6 577.8 L257.5 576.0 L258.3 574.1 L259.2 572.3 L260.1 570.5 L260.9 568.7 L261.8 566.9 L262.7 565.1 L263.6 563.4 L264.5 561.6 L265.4 559.8 L266.3 558.0 L267.2 556.2 L268.1 554.4 L269.0 552.7 L270.0 550.9 L270.9 549.1 L271.9 547.4 L272.8 545.6 L273.8 543.9 L274.7 542.1 L275.7 540.4 L276.7 538.6 L277.7 536.9 L278.7 535.1 L279.7 533.4 L280.7 531.7 L281.7 530.0 L282.7 528.2 L283.7 526.5 L284.7 524.8 L285.8 523.1 L286.8 521.4 L287.9 519.7 L288.9 518.0 L290.0 516.3 L291.1 514.6 L292.1 512.9 L293.2 511.2 L294.3 509.6 L295.4 507.9 L296.5 506.2 L297.6 504.6 L298.8 502.9 L299.9 501.3 L301.0 499.6 L302.2 498.0 L303.3 496.3 L304.5 494.7 L305.6 493.1 L306.8 491.5 L308.0 489.8 L309.2 488.2 L310.3 486.6 L311.5 485.0 L312.7 483.4 L314.0 481.8 L315.2 480.3 L316.4 478.7 L317.6 477.1 L318.9 475.5 L320.1 474.0 L321.4 472.4 L322.7 470.9 L323.9 469.3 L325.2 467.8 L326.5 466.3 L327.8 464.7 L329.1 463.2 L330.4 461.7 L331.7 460.2 L333.1 458.7 L334.4 457.2 L335.7 455.7 L337.1 454.3 L338.4 452.8 L339.8 451.3 L341.2 449.9 L342.5 448.4 L343.9 447.0 L345.3 445.6 L346.7 444.1 L348.1 442.7 L349.6 441.3 L351.0 439.9 L352.4 438.5 L353.9 437.1 L355.3 435.7 L356.8 434.4 L358.2 433.0 L359.7 431.7 L361.2 430.3 L362.7 429.0 L364.2 427.6 L365.7 426.3 L367.2 425.0 L368.7 423.7 L370.2 422.4 L371.7 421.1 L373.3 419.8 L374.8 418.6 L376.4 417.3 L377.9 416.0 L379.5 414.8 L381.1 413.6 L382.6 412.3 L384.2 411.1 L385.8 409.9 L387.4 408.7 L389.0 407.5 L390.6 406.3 L392.2 405.1 L393.8 403.9 L395.5 402.8 L397.1 401.6 L398.7 400.5 L400.4 399.3 L402.0 398.2 L403.7 397.1 L405.3 395.9 L407.0 394.8 L408.7 393.7 L410.3 392.6 L412.0 391.6 L413.7 390.5 L415.4 389.4 L417.1 388.4 L418.8 387.3 L420.5 386.3 L422.2 385.2 L423.9 384.2 L425.6 383.2 L427.4 382.2 L429.1 381.2 L430.8 380.2 L432.6 379.2 L434.3 378.2 L436.1 377.2 L437.8 376.3 L439.6 375.3 L441.3 374.4 L443.1 373.4 L444.9 372.5 L446.6 371.6 L448.4 370.7 L450.2 369.8 L452.0 368.9 L453.8 368.0 L455.6 367.1 L457.4 366.2 L459.2 365.4 L461.0 364.5 L462.8 363.6 L464.6 362.8 L466.4 362.0 L468.2 361.1 L470.1 360.3 L471.9 359.5 L473.7 358.7 L475.5 357.9 L477.4 357.1 L479.2 356.3 L481.1 355.6 L482.9 354.8 L484.8 354.0 L486.6 353.3 L488.5 352.5 L490.3 351.8 L492.2 351.1 L494.1 350.3 L495.9 349.6 L497.8 348.9 L499.7 348.2 L501.5 347.5 L503.4 346.9 L505.3 346.2 L507.2 345.5 L509.1 344.8 L511.0 344.2 L512.9 343.5 L514.8 342.9 L516.6 342.3 L518.5 341.6 L520.5 341.0 L522.4 340.4 L524.3 339.8 L526.2 339.2 L528.1 338.6 L530.0 338.1 L531.9 337.5 L533.8 336.9 L535.7 336.4 L537.7 335.8 L539.6 335.3 L541.5 334.7 L543.4 334.2 L545.4 333.7 L547.3 333.1 L549.2 332.6 L551.2 332.1 L553.1 331.6 L555.1 331.2 L557.0 330.7 L558.9 330.2 L560.9 329.7 L562.8 329.3 L564.8 328.8 L566.7 328.4 L568.7 327.9 L570.6 327.5 L572.6 327.1 L574.5 326.7 L576.5 326.2 L578.5 325.8 L580.4 325.4 L582.4 325.0 L584.3 324.7 L586.3 324.3 L588.3 323.9 L590.2 323.6 L592.2 323.2 L594.2 322.8 L596.1 322.5 L598.1 322.2 L600.1 321.8 L602.0 321.5 L604.0 321.2 L606.0 320.9 L608.0 320.6 L610.0 320.3 L611.9 320.0 L613.9 319.7 L615.9 319.4 L617.9 319.2 L619.9 318.9 L621.8 318.6 L623.8 318.4 L625.8 318.1 L627.8 317.9 L629.8 317.6 L631.8 317.4 L633.7 317.2 L635.7 317.0 L637.7 316.8 L639.7 316.5 L641.7 316.3 L643.7 316.1 L645.7 316.0 L647.7 315.8 L649.7 315.6 L651.7 315.4 L653.6 315.2 L655.6 315.1 L657.6 314.9 L659.6 314.7 L661.6 314.6 L663.6 314.4 L665.6 314.3 L667.6 314.1 L669.6 314.0 L671.6 313.9 L673.6 313.7 L675.6 313.6 L677.6 313.5 L679.6 313.4 L681.6 313.3 L683.6 313.2 L685.6 313.1 L687.6 313.0 L689.6 312.9 L691.6 312.8 L693.6 312.7 L695.5 312.6 L697.5 312.5 L699.5 312.4 L701.5 312.3 L703.5 312.3 L705.5 312.2 L707.5 312.1 L709.5 312.0 L711.5 312.0 L713.5 311.9 L715.5 311.9 L717.5 311.8 L719.5 311.7 L721.5 311.7 L723.5 311.6 L725.5 311.6 L727.5 311.5 L729.5 311.5 L731.5 311.5 L733.5 311.4 L735.5 311.4 L737.5 311.3 L739.5 311.3 L741.5 311.3 L743.5 311.2 L745.5 311.2 L747.5 311.2 L749.5 311.1 L751.5 311.1 L753.5 311.1 L755.5 311.1 L757.5 311.0 L759.5 311.0 L761.5 311.0 L763.5 311.0 L765.5 311.0 L767.5 310.9 L769.5 310.9 L771.5 310.9 L773.5 310.9 L775.5 310.9 L777.5 310.8 L779.5 310.8 L781.5 310.8 L783.5 310.8 L785.5 310.8 L787.5 310.7 L789.5 310.7 L791.5 310.7 L793.5 310.7 L795.5 310.7 L797.5 310.6 L799.5 310.6 L801.5 310.6 L803.5 310.6 L805.5 310.5 L807.5 310.5 L809.5 310.5 L811.5 310.5 L813.5 310.4 L815.5 310.4 L817.5 310.4 L819.5 310.4 L821.5 310.3 L823.5 310.3 L825.5 310.2 L827.5 310.2 L829.5 310.2 L831.5 310.1 L833.5 310.1 L835.5 310.0 L837.5 310.0" stroke="#00ffff" stroke-width="3.0" fill="none" stroke-linejoin="round"/>
<path d="M187.0 876.0 L187.1 874.0 L187.2 872.0 L187.4 870.0 L187.5 868.0 L187.6 866.0 L187.8 864.0 L187.9 862.0 L188.1 860.0 L188.2 858.0 L188.4 856.0 L188.5 854.0 L188.7 852.0 L188.9 850.1 L189.0 848.1 L189.2 846.1 L189.4 844.1 L189.6 842.1 L189.8 840.1 L189.9 838.1 L190.1 836.1 L190.3 834.1 L190.5 832.1 L190.7 830.2 L190.9 828.2 L191.1 826.2 L191.4 824.2 L191.6 822.2 L191.8 820.2 L192.0 818.2 L192.3 816.3 L192.5 814.3 L192.7 812.3 L193.0 810.3 L193.2 808.3 L193.5 806.3 L193.7 804.3 L194.0 802.4 L194.2 800.4 L194.5 798.4 L194.7 796.4 L195.0 794.4 L195.3 792.5 L195.6 790.5 L195.8 788.5 L196.1 786.5 L196.4 784.5 L196.7 782.6 L197.0 780.6 L197.3 778.6 L197.6 776.6 L197.9 774.7 L198.2 772.7 L198.5 770.7 L198.9 768.7 L199.2 766.8 L199.5 764.8 L199.8 762.8 L200.2 760.9 L200.5 758.9 L200.9 756.9 L201.2 755.0 L201.6 753.0 L201.9 751.0 L202.3 749.1 L202.6 747.1 L203.0 745.1 L203.4 743.2 L203.7 741.2 L204.1 739.2 L204.5 737.3 L204.9 735.3 L205.3 733.3 L205.7 731.4 L206.0 729.4 L206.5 727.5 L206.9 725.5 L207.3 723.6 L207.7 721.6 L208.1 719.6 L208.5 717.7 L208.9 715.7 L209.4 713.8 L209.8 711.8 L210.2 709.9 L210.7 707.9 L211.1 706.0 L211.6 704.0 L212.0 702.1 L212.5 700.1 L212.9 698.2 L213.4 696.3 L213.9 694.3 L214.3 692.4 L214.8 690.4 L215.3 688.5 L215.8 686.6 L216.3 684.6 L216.8 682.7 L217.3 680.7 L217.8 678.8 L218.3 676.9 L218.8 674.9 L219.3 673.0 L219.8 671.1 L220.3 669.2 L220.9 667.2 L221.4 665.3 L221.9 663.4 L222.5 661.4 L223.0 659.5 L223.6 657.6 L224.1 655.7 L224.7 653.8 L225.2 651.8 L225.8 649.9 L226.4 648.0 L227.0 646.1 L227.5 644.2 L228.1 642.3 L228.7 640.4 L229.3 638.5 L229.9 636.5 L230.5 634.6 L231.1 632.7 L231.7 630.8 L232.3 628.9 L232.9 627.0 L233.6 625.1 L234.2 623.2 L234.8 621.3 L235.4 619.4 L236.1 617.5 L236.7 615.7 L237.4 613.8 L238.0 611.9 L238.7 610.0 L239.4 608.1 L240.0 606.2 L240.7 604.3 L241.4 602.5 L242.0 600.6 L242.7 598.7 L243.4 596.8 L244.1 594.9 L244.8 593.1 L245.5 591.2 L246.2 589.3 L246.9 587.5 L247.7 585.6 L248.4 583.7 L249.1 581.9 L249.8 580.0 L250.6 578.2 L251.3 576.3 L252.1 574.4 L252.8 572.6 L253.6 570.7 L254.3 568.9 L255.1 567.1 L255.9 565.2 L256.6 563.4 L257.4 561.5 L258.2 559.7 L259.0 557.8 L259.8 556.0 L260.6 554.2 L261.4 552.3 L262.2 550.5 L263.0 548.7 L263.8 546.9 L264.6 545.0 L265.5 543.2 L266.3 541.4 L267.1 539.6 L268.0 537.8 L268.8 536.0 L269.7 534.2 L270.5 532.4 L271.4 530.6 L272.2 528.8 L273.1 527.0 L274.0 525.2 L274.9 523.4 L275.8 521.6 L276.7 519.8 L277.5 518.0 L278.4 516.2 L279.4 514.4 L280.3 512.7 L281.2 510.9 L282.1 509.1 L283.0 507.3 L284.0 505.6 L284.9 503.8 L285.8 502.0 L286.8 500.3 L287.7 498.5 L288.7 496.8 L289.7 495.0 L290.6 493.3 L291.6 491.5 L292.6 489.8 L293.6 488.0 L294.5 486.3 L295.5 484.6 L296.5 482.8 L297.5 481.1 L298.5 479.4 L299.6 477.6 L300.6 475.9 L301.6 474.2 L302.6 472.5 L303.7 470.8 L304.7 469.1 L305.7 467.4 L306.8 465.7 L307.9 464.0 L308.9 462.3 L310.0 460.6 L311.0 458.9 L312.1 457.2 L313.2 455.5 L314.3 453.9 L315.4 452.2 L316.5 450.5 L317.6 448.9 L318.7 447.2 L319.8 445.5 L320.9 443.9 L322.1 442.2 L323.2 440.6 L324.3 438.9 L325.5 437.3 L326.6 435.7 L327.8 434.0 L328.9 432.4 L330.1 430.8 L331.2 429.1 L332.4 427.5 L333.6 425.9 L334.8 424.3 L336.0 422.7 L337.2 421.1 L338.4 419.5 L339.6 417.9 L340.8 416.3 L342.0 414.7 L343.2 413.1 L344.4 411.6 L345.7 410.0 L346.9 408.4 L348.1 406.9 L349.4 405.3 L350.7 403.7 L351.9 402.2 L353.2 400.6 L354.4 399.1 L355.7 397.6 L357.0 396.0 L358.3 394.5 L359.6 393.0 L360.9 391.4 L362.2 389.9 L363.5 388.4 L364.8 386.9 L366.1 385.4 L367.4 383.9 L368.8 382.4 L370.1 380.9 L371.4 379.4 L372.8 378.0 L374.1 376.5 L375.5 375.0 L376.9 373.6 L378.2 372.1 L379.6 370.6 L381.0 369.2 L382.3 367.8 L383.7 366.3 L385.1 364.9 L386.5 363.4 L387.9 362.0 L389.3 360.6 L390.8 359.2 L392.2 357.8 L393.6 356.4 L395.0 355.0 L396.5 353.6 L397.9 352.2 L399.3 350.8 L400.8 349.5 L402.2 348.1 L403.7 346.7 L405.2 345.4 L406.6 344.0 L408.1 342.7 L409.6 341.3 L411.1 340.0 L412.6 338.6 L414.1 337.3 L415.6 336.0 L417.1 334.7 L418.6 333.4 L420.1 332.1 L421.6 330.8 L423.1 329.5 L424.7 328.2 L426.2 326.9 L427.7 325.6 L429.3 324.4 L430.8 323.1 L432.4 321.8 L433.9 320.6 L435.5 319.3 L437.1 318.1 L438.7 316.9 L440.2 315.6 L441.8 314.4 L443.4 313.2 L445.0 312.0 L446.6 310.8 L448.2 309.6 L449.8 308.4 L451.4 307.2 L453.0 306.0 L454.6 304.9 L456.2 303.7 L457.9 302.5 L459.5 301.4 L461.1 300.2 L462.8 299.1 L464.4 297.9 L466.1 296.8 L467.7 295.7 L469.4 294.6 L471.0 293.5 L472.7 292.4 L474.4 291.3 L476.1 290.2 L477.7 289.1 L479.4 288.0 L481.1 286.9 L482.8 285.9 L484.5 284.8 L486.2 283.8 L487.9 282.7 L489.6 281.7 L491.3 280.6 L493.0 279.6 L494.7 278.6 L496.5 277.6 L498.2 276.6 L499.9 275.6 L501.7 274.6 L503.4 273.6 L505.1 272.6 L506.9 271.7 L508.6 270.7 L510.4 269.8 L512.2 268.8 L513.9 267.9 L515.7 266.9 L517.5 266.0 L519.2 265.1 L521.0 264.2 L522.8 263.3 L524.6 262.4 L526.4 261.5 L528.2 260.6 L530.0 259.7 L531.8 258.9 L533.6 258.0 L535.4 257.1 L537.2 256.3 L539.0 255.5 L540.8 254.6 L542.6 253.8 L544.5 253.0 L546.3 252.2 L548.1 251.4 L550.0 250.6 L551.8 249.8 L553.6 249.0 L555.5 248.3 L557.3 247.5 L559.2 246.7 L561.0 246.0 L562.9 245.3 L564.8 244.5 L566.6 243.8 L568.5 243.1 L570.4 242.4 L572.2 241.7 L574.1 241.0 L576.0 240.3 L577.9 239.7 L579.8 239.0 L581.6 238.4 L583.5 237.7 L585.4 237.1 L587.3 236.4 L589.2 235.8 L591.1 235.2 L593.0 234.6 L594.9 234.0 L596.9 233.4 L598.8 232.8 L600.7 232.3 L602.6 231.7 L604.5 231.1 L606.4 230.6 L608.4 230.0 L610.3 229.5 L612.2 229.0 L614.1 228.4 L616.1 227.9 L618.0 227.4 L619.9 226.9 L621.9 226.4 L623.8 225.9 L625.7 225.4 L627.7 224.9 L629.6 224.5 L631.6 224.0 L633.5 223.5 L635.5 223.1 L637.4 222.6 L639.4 222.2 L641.3 221.8 L643.3 221.3 L645.2 220.9 L647.2 220.5 L649.1 220.1 L651.1 219.7 L653.0 219.2 L655.0 218.8 L656.9 218.5 L658.9 218.1 L660.9 217.7 L662.8 217.3 L664.8 216.9 L666.8 216.5 L668.7 216.2 L670.7 215.8 L672.7 215.4 L674.6 215.1 L676.6 214.7 L678.6 214.4 L680.5 214.0 L682.5 213.7 L684.5 213.3 L686.4 213.0 L688.4 212.7 L690.4 212.4 L692.3 212.0 L694.3 211.7 L696.3 211.4 L698.3 211.1 L700.2 210.7 L702.2 210.4 L704.2 210.1 L706.2 209.8 L708.1 209.5 L710.1 209.2 L712.1 208.9 L714.1 208.6 L716.0 208.3 L718.0 208.0 L720.0 207.7 L722.0 207.5 L724.0 207.2 L725.9 206.9 L727.9 206.6 L729.9 206.3 L731.9 206.1 L733.8 205.8 L735.8 205.5 L737.8 205.3 L739.8 205.0 L741.8 204.7 L743.8 204.5 L745.7 204.2 L747.7 204.0 L749.7 203.7 L751.7 203.5 L753.7 203.2 L755.7 203.0 L757.6 202.7 L759.6 202.5 L761.6 202.3 L763.6 202.0 L765.6 201.8 L767.6 201.6 L769.5 201.4 L771.5 201.1 L773.5 200.9 L775.5 200.7 L777.5 200.5 L779.5 200.3 L781.5 200.1 L783.5 199.8 L785.4 199.6 L787.4 199.4 L789.4 199.2 L791.4 199.0 L793.4 198.8 L795.4 198.6 L797.4 198.5 L799.4 198.3 L801.4 198.1 L803.3 197.9 L805.3 197.7 L807.3 197.5 L809.3 197.4 L811.3 197.2 L813.3 197.0 L815.3 196.8 L817.3 196.7 L819.3 196.5 L821.3 196.4 L823.3 196.2 L825.3 196.0 L827.2 195.9 L829.2 195.7 L831.2 195.6 L833.2 195.4 L835.2 195.3 L837.2 195.1 L839.2 195.0 L841.2 194.9 L843.2 194.7 L845.2 194.6 L847.2 194.5 L849.2 194.3 L851.2 194.2 L853.2 194.1 L855.2 194.0 L857.2 193.8 L859.1 193.7 L861.1 193.6 L863.1 193.5 L865.1 193.4 L867.1 193.3 L869.1 193.2 L871.1 193.0 L873.1 192.9 L875.1 192.8 L877.1 192.7 L879.1 192.7 L881.1 192.6 L883.1 192.5 L885.1 192.4 L887.1 192.3 L889.1 192.2 L891.1 192.1 L893.1 192.0 L895.1 192.0 L897.1 191.9 L899.1 191.8 L901.1 191.7 L903.1 191.7 L905.1 191.6 L907.1 191.5 L909.1 191.5 L911.1 191.4 L913.1 191.4 L915.1 191.3 L917.1 191.2 L919.1 191.2 L921.1 191.1 L923.0 191.1 L925.0 191.1 L927.0 191.0 L929.0 191.0 L931.0 190.9 L933.0 190.9 L935.0 190.9 L937.0 190.8 L939.0 190.8 L941.0 190.8 L943.0 190.7 L945.0 190.7 L947.0 190.7 L949.0 190.7 L951.0 190.6 L953.0 190.6 L955.0 190.6 L957.0 190.6 L959.0 190.6 L961.0 190.6 L963.0 190.6 L965.0 190.6 L967.0 190.6 L969.0 190.6 L971.0 190.6 L973.0 190.6 L975.0 190.6 L977.0 190.6 L979.0 190.6 L981.0 190.6 L983.0 190.6 L985.0 190.6 L987.0 190.6 L989.0 190.6 L991.0 190.6" stroke="#ff00ff" stroke-width="5.0" stroke-opacity="0.3" fill="none" stroke-linejoin="round"/><path d="M187.0 876.0 L187.1 874.0 L187.2 872.0 L187.4 870.0 L187.5 868.0 L187.6 866.0 L187.8 864.0 L187.9 862.0 L188.1 860.0 L188.2 858.0 L188.4 856.0 L188.5 854.0 L188.7 852.0 L188.9 850.1 L189.0 848.1 L189.2 846.1 L189.4 844.1 L189.6 842.1 L189.8 840.1 L189.9 838.1 L190.1 836.1 L190.3 834.1 L190.5 832.1 L190.7 830.2 L190.9 828.2 L191.1 826.2 L191.4 824.2 L191.6 822.2 L191.8 820.2 L192.0 818.2 L192.3 816.3 L192.5 814.3 L192.7 812.3 L193.0 810.3 L193.2 808.3 L193.5 806.3 L193.7 804.3 L194.0 802.4 L194.2 800.4 L194.5 798.4 L194.7 796.4 L195.0 794.4 L195.3 792.5 L195.6 790.5 L195.8 788.5 L196.1 786.5 L196.4 784.5 L196.7 782.6 L197.0 780.6 L197.3 778.6 L197.6 776.6 L197.9 774.7 L198.2 772.7 L198.5 770.7 L198.9 768.7 L199.2 766.8 L199.5 764.8 L199.8 762.8 L200.2 760.9 L200.5 758.9 L200.9 756.9 L201.2 755.0 L201.6 753.0 L201.9 751.0 L202.3 749.1 L202.6 747.1 L203.0 745.1 L203.4 743.2 L203.7 741.2 L204.1 739.2 L204.5 737.3 L204.9 735.3 L205.3 733.3 L205.7 731.4 L206.0 729.4 L206.5 727.5 L206.9 725.5 L207.3 723.6 L207.7 721.6 L208.1 719.6 L208.5 717.7 L208.9 715.7 L209.4 713.8 L209.8 711.8 L210.2 709.9 L210.7 707.9 L211.1 706.0 L211.6 704.0 L212.0 702.1 L212.5 700.1 L212.9 698.2 L213.4 696.3 L213.9 694.3 L214.3 692.4 L214.8 690.4 L215.3 688.5 L215.8 686.6 L216.3 684.6 L216.8 682.7 L217.3 680.7 L217.8 678.8 L218.3 676.9 L218.8 674.9 L219.3 673.0 L219.8 671.1 L220.3 669.2 L220.9 667.2 L221.4 665.3 L221.9 663.4 L222.5 661.4 L223.0 659.5 L223.6 657.6 L224.1 655.7 L224.7 653.8 L225.2 651.8 L225.8 649.9 L226.4 648.0 L227.0 646.1 L227.5 644.2 L228.1 642.3 L228.7 640.4 L229.3 638.5 L229.9 636.5 L230.5 634.6 L231.1 632.7 L231.7 630.8 L232.3 628.9 L232.9 627.0 L233.6 625.1 L234.2 623.2 L234.8 621.3 L235.4 619.4 L236.1 617.5 L236.7 615.7 L237.4 613.8 L238.0 611.9 L238.7 610.0 L239.4 608.1 L240.0 606.2 L240.7 604.3 L241.4 602.5 L242.0 600.6 L242.7 598.7 L243.4 596.8 L244.1 594.9 L244.8 593.1 L245.5 591.2 L246.2 589.3 L246.9 587.5 L247.7 585.6 L248.4 583.7 L249.1 581.9 L249.8 580.0 L250.6 578.2 L251.3 576.3 L252.1 574.4 L252.8 572.6 L253.6 570.7 L254.3 568.9 L255.1 567.1 L255.9 565.2 L256.6 563.4 L257.4 561.5 L258.2 559.7 L259.0 557.8 L259.8 556.0 L260.6 554.2 L261.4 552.3 L262.2 550.5 L263.0 548.7 L263.8 546.9 L264.6 545.0 L265.5 543.2 L266.3 541.4 L267.1 539.6 L268.0 537.8 L268.8 536.0 L269.7 534.2 L270.5 532.4 L271.4 530.6 L272.2 528.8 L273.1 527.0 L274.0 525.2 L274.9 523.4 L275.8 521.6 L276.7 519.8 L277.5 518.0 L278.4 516.2 L279.4 514.4 L280.3 512.7 L281.2 510.9 L282.1 509.1 L283.0 507.3 L284.0 505.6 L284.9 503.8 L285.8 502.0 L286.8 500.3 L287.7 498.5 L288.7 496.8 L289.7 495.0 L290.6 493.3 L291.6 491.5 L292.6 489.8 L293.6 488.0 L294.5 486.3 L295.5 484.6 L296.5 482.8 L297.5 481.1 L298.5 479.4 L299.6 477.6 L300.6 475.9 L301.6 474.2 L302.6 472.5 L303.7 470.8 L304.7 469.1 L305.7 467.4 L306.8 465.7 L307.9 464.0 L308.9 462.3 L310.0 460.6 L311.0 458.9 L312.1 457.2 L313.2 455.5 L314.3 453.9 L315.4 452.2 L316.5 450.5 L317.6 448.9 L318.7 447.2 L319.8 445.5 L320.9 443.9 L322.1 442.2 L323.2 440.6 L324.3 438.9 L325.5 437.3 L326.6 435.7 L327.8 434.0 L328.9 432.4 L330.1 430.8 L331.2 429.1 L332.4 427.5 L333.6 425.9 L334.8 424.3 L336.0 422.7 L337.2 421.1 L338.4 419.5 L339.6 417.9 L340.8 416.3 L342.0 414.7 L343.2 413.1 L344.4 411.6 L345.7 410.0 L346.9 408.4 L348.1 406.9 L349.4 405.3 L350.7 403.7 L351.9 402.2 L353.2 400.6 L354.4 399.1 L355.7 397.6 L357.0 396.0 L358.3 394.5 L359.6 393.0 L360.9 391.4 L362.2 389.9 L363.5 388.4 L364.8 386.9 L366.1 385.4 L367.4 383.9 L368.8 382.4 L370.1 380.9 L371.4 379.4 L372.8 378.0 L374.1 376.5 L375.5 375.0 L376.9 373.6 L378.2 372.1 L379.6 370.6 L381.0 369.2 L382.3 367.8 L383.7 366.3 L385.1 364.9 L386.5 363.4 L387.9 362.0 L389.3 360.6 L390.8 359.2 L392.2 357.8 L393.6 356.4 L395.0 355.0 L396.5 353.6 L397.9 352.2 L399.3 350.8 L400.8 349.5 L402.2 348.1 L403.7 346.7 L405.2 345.4 L406.6 344.0 L408.1 342.7 L409.6 341.3 L411.1 340.0 L412.6 338.6 L414.1 337.3 L415.6 336.0 L417.1 334.7 L418.6 333.4 L420.1 332.1 L421.6 330.8 L423.1 329.5 L424.7 328.2 L426.2 326.9 L427.7 325.6 L429.3 324.4 L430.8 323.1 L432.4 321.8 L433.9 320.6 L435.5 319.3 L437.1 318.1 L438.7 316.9 L440.2 315.6 L441.8 314.4 L443.4 313.2 L445.0 312.0 L446.6 310.8 L448.2 309.6 L449.8 308.4 L451.4 307.2 L453.0 306.0 L454.6 304.9 L456.2 303.7 L457.9 302.5 L459.5 301.4 L461.1 300.2 L462.8 299.1 L464.4 297.9 L466.1 296.8 L467.7 295.7 L469.4 294.6 L471.0 293.5 L472.7 292.4 L474.4 291.3 L476.1 290.2 L477.7 289.1 L479.4 288.0 L481.1 286.9 L482.8 285.9 L484.5 284.8 L486.2 283.8 L487.9 282.7 L489.6 281.7 L491.3 280.6 L493.0 279.6 L494.7 278.6 L496.5 277.6 L498.2 276.6 L499.9 275.6 L501.7 274.6 L503.4 273.6 L505.1 272.6 L506.9 271.7 L508.6 270.7 L510.4 269.8 L512.2 268.8 L513.9 267.9 L515.7 266.9 L517.5 266.0 L519.2 265.1 L521.0 264.2 L522.8 263.3 L524.6 262.4 L526.4 261.5 L528.2 260.6 L530.0 259.7 L531.8 258.9 L533.6 258.0 L535.4 257.1 L537.2 256.3 L539.0 255.5 L540.8 254.6 L542.6 253.8 L544.5 253.0 L546.3 252.2 L548.1 251.4 L550.0 250.6 L551.8 249.8 L553.6 249.0 L555.5 248.3 L557.3 247.5 L559.2 246.7 L561.0 246.0 L562.9 245.3 L564.8 244.5 L566.6 243.8 L568.5 243.1 L570.4 242.4 L572.2 241.7 L574.1 241.0 L576.0 240.3 L577.9 239.7 L579.8 239.0 L581.6 238.4 L583.5 237.7 L585.4 237.1 L587.3 236.4 L589.2 235.8 L591.1 235.2 L593.0 234.6 L594.9 234.0 L596.9 233.4 L598.8 232.8 L600.7 232.3 L602.6 231.7 L604.5 231.1 L606.4 230.6 L608.4 230.0 L610.3 229.5 L612.2 229.0 L614.1 228.4 L616.1 227.9 L618.0 227.4 L619.9 226.9 L621.9 226.4 L623.8 225.9 L625.7 225.4 L627.7 224.9 L629.6 224.5 L631.6 224.0 L633.5 223.5 L635.5 223.1 L637.4 222.6 L639.4 222.2 L641.3 221.8 L643.3 221.3 L645.2 220.9 L647.2 220.5 L649.1 220.1 L651.1 219.7 L653.0 219.2 L655.0 218.8 L656.9 218.5 L658.9 218.1 L660.9 217.7 L662.8 217.3 L664.8 216.9 L666.8 216.5 L668.7 216.2 L670.7 215.8 L672.7 215.4 L674.6 215.1 L676.6 214.7 L678.6 214.4 L680.5 214.0 L682.5 213.7 L684.5 213.3 L686.4 213.0 L688.4 212.7 L690.4 212.4 L692.3 212.0 L694.3 211.7 L696.3 211.4 L698.3 211.1 L700.2 210.7 L702.2 210.4 L704.2 210.1 L706.2 209.8 L708.1 209.5 L710.1 209.2 L712.1 208.9 L714.1 208.6 L716.0 208.3 L718.0 208.0 L720.0 207.7 L722.0 207.5 L724.0 207.2 L725.9 206.9 L727.9 206.6 L729.9 206.3 L731.9 206.1 L733.8 205.8 L735.8 205.5 L737.8 205.3 L739.8 205.0 L741.8 204.7 L743.8 204.5 L745.7 204.2 L747.7 204.0 L749.7 203.7 L751.7 203.5 L753.7 203.2 L755.7 203.0 L757.6 202.7 L759.6 202.5 L761.6 202.3 L763.6 202.0 L765.6 201.8 L767.6 201.6 L769.5 201.4 L771.5 201.1 L773.5 200.9 L775.5 200.7 L777.5 200.5 L779.5 200.3 L781.5 200.1 L783.5 199.8 L785.4 199.6 L787.4 199.4 L789.4 199.2 L791.4 199.0 L793.4 198.8 L795.4 198.6 L797.4 198.5 L799.4 198.3 L801.4 198.1 L803.3 197.9 L805.3 197.7 L807.3 197.5 L809.3 197.4 L811.3 197.2 L813.3 197.0 L815.3 196.8 L817.3 196.7 L819.3 196.5 L821.3 196.4 L823.3 196.2 L825.3 196.0 L827.2 195.9 L829.2 195.7 L831.2 195.6 L833.2 195.4 L835.2 195.3 L837.2 195.1 L839.2 195.0 L841.2 194.9 L843.2 194.7 L845.2 194.6 L847.2 194.5 L849.2 194.3 L851.2 194.2 L853.2 194.1 L855.2 194.0 L857.2 193.8 L859.1 193.7 L861.1 193.6 L863.1 193.5 L865.1 193.4 L867.1 193.3 L869.1 193.2 L871.1 193.0 L873.1 192.9 L875.1 192.8 L877.1 192.7 L879.1 192.7 L881.1 192.6 L883.1 192.5 L885.1 192.4 L887.1 192.3 L889.1 192.2 L891.1 192.1 L893.1 192.0 L895.1 192.0 L897.1 191.9 L899.1 191.8 L901.1 191.7 L903.1 191.7 L905.1 191.6 L907.1 191.5 L909.1 191.5 L911.1 191.4 L913.1 191.4 L915.1 191.3 L917.1 191.2 L919.1 191.2 L921.1 191.1 L923.0 191.1 L925.0 191.1 L927.0 191.0 L929.0 191.0 L931.0 190.9 L933.0 190.9 L935.0 190.9 L937.0 190.8 L939.0 190.8 L941.0 190.8 L943.0 190.7 L945.0 190.7 L947.0 190.7 L949.0 190.7 L951.0 190.6 L953.0 190.6 L955.0 190.6 L957.0 190.6 L959.0 190.6 L961.0 190.6 L963.0 190.6 L965.0 190.6 L967.0 190.6 L969.0 190.6 L971.0 190.6 L973.0 190.6 L975.0 190.6 L977.0 190.6 L979.0 190.6 L981.0 190.6 L983.0 190.6 L985.0 190.6 L987.0 190.6 L989.0 190.6 L991.0 190.6" stroke="#ff00ff" stroke-width="3.0" fill="none" stroke-linejoin="round"/>
<path d="M186.4 875.0 L186.5 873.0 L186.7 871.0 L186.8 869.0 L186.9 867.0 L187.0 865.0 L187.1 863.0 L187.2 861.0 L187.4 859.0 L187.5 857.0 L187.6 855.0 L187.8 853.0 L187.9 851.1 L188.1 849.1 L188.2 847.1 L188.4 845.1 L188.6 843.1 L188.7 841.1 L188.9 839.1 L189.1 837.1 L189.2 835.1 L189.4 833.1 L189.6 831.1 L189.8 829.1 L190.0 827.1 L190.2 825.2 L190.4 823.2 L190.6 821.2 L190.8 819.2 L191.0 817.2 L191.2 815.2 L191.4 813.2 L191.6 811.2 L191.9 809.3 L192.1 807.3 L192.3 805.3 L192.6 803.3 L192.8 801.3 L193.1 799.3 L193.3 797.4 L193.6 795.4 L193.8 793.4 L194.1 791.4 L194.3 789.4 L194.6 787.4 L194.9 785.5 L195.2 783.5 L195.4 781.5 L195.7 779.5 L196.0 777.5 L196.3 775.6 L196.6 773.6 L196.9 771.6 L197.2 769.6 L197.5 767.7 L197.8 765.7 L198.1 763.7 L198.5 761.7 L198.8 759.8 L199.1 757.8 L199.4 755.8 L199.8 753.9 L200.1 751.9 L200.4 749.9 L200.8 747.9 L201.1 746.0 L201.5 744.0 L201.9 742.0 L202.2 740.1 L202.6 738.1 L203.0 736.1 L203.3 734.2 L203.7 732.2 L204.1 730.3 L204.5 728.3 L204.9 726.3 L205.2 724.4 L205.6 722.4 L206.0 720.5 L206.4 718.5 L206.9 716.5 L207.3 714.6 L207.7 712.6 L208.1 710.7 L208.5 708.7 L209.0 706.8 L209.4 704.8 L209.8 702.9 L210.3 700.9 L210.7 699.0 L211.2 697.0 L211.6 695.1 L212.1 693.1 L212.5 691.2 L213.0 689.2 L213.5 687.3 L213.9 685.3 L214.4 683.4 L214.9 681.5 L215.4 679.5 L215.8 677.6 L216.3 675.6 L216.8 673.7 L217.3 671.8 L217.8 669.8 L218.3 667.9 L218.8 666.0 L219.4 664.0 L219.9 662.1 L220.4 660.2 L220.9 658.3 L221.5 656.3 L222.0 654.4 L222.5 652.5 L223.1 650.6 L223.6 648.6 L224.2 646.7 L224.7 644.8 L225.3 642.9 L225.8 640.9 L226.4 639.0 L227.0 637.1 L227.6 635.2 L228.1 633.3 L228.7 631.4 L229.3 629.5 L229.9 627.6 L230.5 625.6 L231.1 623.7 L231.7 621.8 L232.3 619.9 L232.9 618.0 L233.5 616.1 L234.1 614.2 L234.7 612.3 L235.4 610.4 L236.0 608.5 L236.6 606.6 L237.3 604.7 L237.9 602.8 L238.6 600.9 L239.2 599.1 L239.9 597.2 L240.5 595.3 L241.2 593.4 L241.9 591.5 L242.5 589.6 L243.2 587.7 L243.9 585.9 L244.6 584.0 L245.2 582.1 L245.9 580.2 L246.6 578.4 L247.3 576.5 L248.0 574.6 L248.7 572.7 L249.4 570.9 L250.2 569.0 L250.9 567.1 L251.6 565.3 L252.3 563.4 L253.0 561.5 L253.8 559.7 L254.5 557.8 L255.3 556.0 L256.0 554.1 L256.8 552.3 L257.5 550.4 L258.3 548.6 L259.0 546.7 L259.8 544.9 L260.6 543.0 L261.3 541.2 L262.1 539.3 L262.9 537.5 L263.7 535.7 L264.5 533.8 L265.3 532.0 L266.1 530.2 L266.9 528.3 L267.7 526.5 L268.5 524.7 L269.3 522.8 L270.1 521.0 L271.0 519.2 L271.8 517.4 L272.6 515.6 L273.4 513.7 L274.3 511.9 L275.1 510.1 L276.0 508.3 L276.8 506.5 L277.7 504.7 L278.5 502.9 L279.4 501.1 L280.3 499.3 L281.1 497.5 L282.0 495.7 L282.9 493.9 L283.8 492.1 L284.7 490.3 L285.6 488.5 L286.5 486.7 L287.4 485.0 L288.3 483.2 L289.2 481.4 L290.1 479.6 L291.0 477.8 L291.9 476.1 L292.8 474.3 L293.8 472.5 L294.7 470.7 L295.6 469.0 L296.6 467.2 L297.5 465.5 L298.5 463.7 L299.4 461.9 L300.4 460.2 L301.3 458.4 L302.3 456.7 L303.3 454.9 L304.3 453.2 L305.2 451.4 L306.2 449.7 L307.2 448.0 L308.2 446.2 L309.2 444.5 L310.2 442.8 L311.2 441.0 L312.2 439.3 L313.2 437.6 L314.2 435.8 L315.2 434.1 L316.2 432.4 L317.3 430.7 L318.3 429.0 L319.3 427.3 L320.4 425.6 L321.4 423.9 L322.5 422.2 L323.5 420.4 L324.6 418.8 L325.6 417.1 L326.7 415.4 L327.7 413.7 L328.8 412.0 L329.9 410.3 L331.0 408.6 L332.1 406.9 L333.1 405.3 L334.2 403.6 L335.3 401.9 L336.4 400.2 L337.5 398.6 L338.6 396.9 L339.7 395.2 L340.9 393.6 L342.0 391.9 L343.1 390.3 L344.2 388.6 L345.4 387.0 L346.5 385.3 L347.6 383.7 L348.8 382.0 L349.9 380.4 L351.1 378.8 L352.2 377.1 L353.4 375.5 L354.5 373.9 L355.7 372.3 L356.9 370.6 L358.0 369.0 L359.2 367.4 L360.4 365.8 L361.6 364.2 L362.8 362.6 L364.0 361.0 L365.2 359.4 L366.4 357.8 L367.6 356.2 L368.8 354.6 L370.0 353.0 L371.2 351.4 L372.4 349.8 L373.7 348.3 L374.9 346.7 L376.1 345.1 L377.4 343.5 L378.6 342.0 L379.9 340.4 L381.1 338.8 L382.4 337.3 L383.6 335.7 L384.9 334.2 L386.1 332.6 L387.4 331.1 L388.7 329.5 L390.0 328.0 L391.2 326.5 L392.5 324.9 L393.8 323.4 L395.1 321.9 L396.4 320.4 L397.7 318.9 L399.0 317.3 L400.3 315.8 L401.6 314.3 L403.0 312.8 L404.3 311.3 L405.6 309.8 L406.9 308.3 L408.3 306.8 L409.6 305.3 L410.9 303.9 L412.3 302.4 L413.6 300.9 L415.0 299.4 L416.3 298.0 L417.7 296.5 L419.1 295.0 L420.4 293.6 L421.8 292.1 L423.2 290.7 L424.6 289.2 L425.9 287.8 L427.3 286.4 L428.7 284.9 L430.1 283.5 L431.5 282.1 L432.9 280.6 L434.3 279.2 L435.7 277.8 L437.2 276.4 L438.6 275.0 L440.0 273.6 L441.4 272.2 L442.9 270.8 L444.3 269.4 L445.7 268.0 L447.2 266.6 L448.6 265.2 L450.1 263.9 L451.5 262.5 L453.0 261.1 L454.4 259.8 L455.9 258.4 L457.4 257.0 L458.9 255.7 L460.3 254.4 L461.8 253.0 L463.3 251.7 L464.8 250.3 L466.3 249.0 L467.8 247.7 L469.3 246.4 L470.8 245.1 L472.3 243.7 L473.8 242.4 L475.3 241.1 L476.9 239.8 L478.4 238.5 L479.9 237.3 L481.4 236.0 L483.0 234.7 L484.5 233.4 L486.1 232.1 L487.6 230.9 L489.2 229.6 L490.7 228.4 L492.3 227.1 L493.8 225.9 L495.4 224.6 L497.0 223.4 L498.5 222.2 L500.1 220.9 L501.7 219.7 L503.3 218.5 L504.9 217.3 L506.5 216.1 L508.1 214.9 L509.7 213.7 L511.3 212.5 L512.9 211.3 L514.5 210.1 L516.1 208.9 L517.7 207.8 L519.4 206.6 L521.0 205.4 L522.6 204.3 L524.2 203.1 L525.9 202.0 L527.5 200.8 L529.2 199.7 L530.8 198.6 L532.5 197.4 L534.1 196.3 L535.8 195.2 L537.5 194.1 L539.1 193.0 L540.8 191.9 L542.5 190.8 L544.1 189.7 L545.8 188.6 L547.5 187.6 L549.2 186.5 L550.9 185.4 L552.6 184.4 L554.3 183.3 L556.0 182.3 L557.7 181.2 L559.4 180.2 L561.1 179.2 L562.8 178.2 L564.6 177.1 L566.3 176.1 L568.0 175.1 L569.7 174.1 L571.5 173.1 L573.2 172.1 L575.0 171.2 L576.7 170.2 L578.5 169.2 L580.2 168.3 L582.0 167.3 L583.7 166.4 L585.5 165.4 L587.2 164.5 L589.0 163.5 L590.8 162.6 L592.6 161.7 L594.3 160.8 L596.1 159.9 L597.9 159.0 L599.7 158.1 L601.5 157.2 L603.3 156.3 L605.1 155.4 L606.9 154.6 L608.7 153.7 L610.5 152.9 L612.3 152.0 L614.1 151.2 L615.9 150.3 L617.7 149.5 L619.6 148.7 L621.4 147.8 L623.2 147.0 L625.0 146.2 L626.9 145.4 L628.7 144.6 L630.6 143.8 L632.4 143.1 L634.2 142.3 L636.1 141.5 L637.9 140.8 L639.8 140.0 L641.6 139.2 L643.5 138.5 L645.3 137.8 L647.2 137.0 L649.1 136.3 L650.9 135.6 L652.8 134.9 L654.7 134.1 L656.5 133.4 L658.4 132.7 L660.3 132.0 L662.1 131.4 L664.0 130.7 L665.9 130.0 L667.8 129.3 L669.7 128.6 L671.6 128.0 L673.5 127.3 L675.3 126.7 L677.2 126.0 L679.1 125.4 L681.0 124.8 L682.9 124.1 L684.8 123.5 L686.7 122.9 L688.6 122.3 L690.5 121.7 L692.4 121.1 L694.3 120.5 L696.2 119.9 L698.2 119.3 L700.1 118.7 L702.0 118.1 L703.9 117.6 L705.8 117.0 L707.7 116.4 L709.7 115.9 L711.6 115.3 L713.5 114.8 L715.4 114.2 L717.3 113.7 L719.3 113.2 L721.2 112.6 L723.1 112.1 L725.1 111.6 L727.0 111.1 L728.9 110.6 L730.9 110.0 L732.8 109.5 L734.7 109.0 L736.7 108.6 L738.6 108.1 L740.5 107.6 L742.5 107.1 L744.4 106.6 L746.4 106.2 L748.3 105.7 L750.3 105.2 L752.2 104.8 L754.2 104.3 L756.1 103.9 L758.1 103.4 L760.0 103.0 L762.0 102.6 L763.9 102.1 L765.9 101.7 L767.8 101.3 L769.8 100.9 L771.7 100.4 L773.7 100.0 L775.6 99.6 L777.6 99.2 L779.6 98.8 L781.5 98.4 L783.5 98.0 L785.4 97.6 L787.4 97.3 L789.4 96.9 L791.3 96.5 L793.3 96.1 L795.2 95.8 L797.2 95.4 L799.2 95.0 L801.1 94.7 L803.1 94.3 L805.1 94.0 L807.1 93.6 L809.0 93.3 L811.0 92.9 L813.0 92.6 L814.9 92.3 L816.9 91.9 L818.9 91.6 L820.8 91.3 L822.8 91.0 L824.8 90.7 L826.8 90.3 L828.7 90.0 L830.7 89.7 L832.7 89.4 L834.7 89.1 L836.6 88.8 L838.6 88.5 L840.6 88.2 L842.6 87.9 L844.6 87.7 L846.5 87.4 L848.5 87.1 L850.5 86.8 L852.5 86.5 L854.5 86.3 L856.4 86.0 L858.4 85.7 L860.4 85.5 L862.4 85.2 L864.4 85.0 L866.3 84.7 L868.3 84.5 L870.3 84.2 L872.3 84.0 L874.3 83.7 L876.3 83.5 L878.3 83.2 L880.2 83.0 L882.2 82.8 L884.2 82.5 L886.2 82.3 L888.2 82.1 L890.2 81.9 L892.2 81.6 L894.1 81.4 L896.1 81.2 L898.1 81.0 L900.1 80.8 L902.1 80.6 L904.1 80.4 L906.1 80.2 L908.1 80.0 L910.0 79.8 L912.0 79.6 L914.0 79.4 L916.0 79.2 L918.0 79.0 L920.0 78.8 L922.0 78.6 L924.0 78.4 L926.0 78.2 L928.0 78.0 L929.9 77.9 L931.9 77.7 L933.9 77.5 L935.9 77.3 L937.9 77.2 L939.9 77.0 L941.9 76.8 L943.9 76.7 L945.9 76.5 L947.9 76.3 L949.9 76.2 L951.9 76.0 L953.9 75.9 L955.8 75.7 L957.8 75.6 L959.8 75.4 L961.8 75.2 L963.8 75.1 L965.8 75.0 L967.8 74.8 L969.8 74.7 L971.8 74.5 L973.8 74.4 L975.8 74.2 L977.8 74.1 L979.8 74.0 L981.8 73.8 L983.8 73.7 L985.8 73.6 L987.7 73.4 L989.7 73.3 L991.7 73.2 L993.7 73.1 L995.7 72.9 L997.7 72.8 L999.7 72.7 L1001.7 72.6 L1003.7 72.5 L1005.7 72.3 L1007.7 72.2 L1009.7 72.1 L1011.7 72.0 L1013.7 71.9 L1015.7 71.8 L1017.7 71.7 L1019.7 71.6 L1021.7 71.5 L1023.7 71.4 L1025.7 71.3 L1027.7 71.2 L1029.7 71.1 L1031.7 71.0 L1033.7 70.9 L1035.7 70.8 L1037.6 70.7 L1039.6 70.6 L1041.6 70.5 L1043.6 70.4 L1045.6 70.3 L1047.6 70.3 L1049.6 70.2 L1051.6 70.1 L1053.6 70.0 L1055.6 69.9 L1057.6 69.9 L1059.6 69.8 L1061.6 69.7 L1063.6 69.6 L1065.6 69.6 L1067.6 69.5 L1069.6 69.4 L1071.6 69.4 L1073.6 69.3 L1075.6 69.2 L1077.6 69.2 L1079.6 69.1 L1081.6 69.0 L1083.6 69.0 L1085.6 68.9 L1087.6 68.8 L1089.6 68.8 L1091.6 68.7 L1093.6 68.7 L1095.6 68.6 L1097.6 68.6 L1099.6 68.5 L1101.6 68.5 L1103.6 68.4 L1105.6 68.4 L1107.6 68.3 L1109.6 68.3 L1111.6 68.2 L1113.6 68.2 L1115.6 68.2 L1117.6 68.1 L1119.6 68.1 L1121.6 68.0 L1123.6 68.0 L1125.6 68.0 L1127.6 67.9 L1129.6 67.9 L1131.6 67.9 L1133.6 67.8 L1135.6 67.8 L1137.6 67.8 L1139.6 67.7 L1141.6 67.7 L1143.6 67.7 L1145.5 67.7 L1147.5 67.6 L1149.5 67.6 L1151.5 67.6 L1153.5 67.6 L1155.5 67.6 L1157.5 67.5 L1159.5 67.5 L1161.5 67.5 L1163.5 67.5 L1165.5 67.5 L1167.5 67.5 L1169.5 67.4 L1171.5 67.4 L1173.5 67.4 L1175.5 67.4 L1177.5 67.4 L1179.5 67.4 L1181.5 67.4 L1183.5 67.4 L1185.5 67.4 L1187.5 67.4 L1189.5 67.3 L1191.5 67.3 L1193.5 67.3 L1195.5 67.3 L1197.5 67.3 L1199.5 67.3 L1201.5 67.3 L1203.5 67.3 L1205.5 67.3 L1207.5 67.3 L1209.5 67.3 L1211.5 67.3 L1213.5 67.3 L1215.5 67.3 L1217.5 67.3 L1219.5 67.3 L1221.5 67.3 L1223.5 67.3 L1225.5 67.3 L1227.5 67.3 L1229.5 67.3 L1231.5 67.3 L1233.5 67.3 L1235.5 67.3 L1237.5 67.3 L1239.5 67.3 L1241.5 67.3 L1243.5 67.3" stroke="#ffff00" stroke-width="5.0" stroke-opacity="0.3" fill="none" stroke-linejoin="round"/><path d="M186.4 875.0 L186.5 873.0 L186.7 871.0 L186.8 869.0 L186.9 867.0 L187.0 865.0 L187.1 863.0 L187.2 861.0 L187.4 859.0 L187.5 857.0 L187.6 855.0 L187.8 853.0 L187.9 851.1 L188.1 849.1 L188.2 847.1 L188.4 845.1 L188.6 843.1 L188.7 841.1 L188.9 839.1 L189.1 837.1 L189.2 835.1 L189.4 833.1 L189.6 831.1 L189.8 829.1 L190.0 827.1 L190.2 825.2 L190.4 823.2 L190.6 821.2 L190.8 819.2 L191.0 817.2 L191.2 815.2 L191.4 813.2 L191.6 811.2 L191.9 809.3 L192.1 807.3 L192.3 805.3 L192.6 803.3 L192.8 801.3 L193.1 799.3 L193.3 797.4 L193.6 795.4 L193.8 793.4 L194.1 791.4 L194.3 789.4 L194.6 787.4 L194.9 785.5 L195.2 783.5 L195.4 781.5 L195.7 779.5 L196.0 777.5 L196.3 775.6 L196.6 773.6 L196.9 771.6 L197.2 769.6 L197.5 767.7 L197.8 765.7 L198.1 763.7 L198.5 761.7 L198.8 759.8 L199.1 757.8 L199.4 755.8 L199.8 753.9 L200.1 751.9 L200.4 749.9 L200.8 747.9 L201.1 746.0 L201.5 744.0 L201.9 742.0 L202.2 740.1 L202.6 738.1 L203.0 736.1 L203.3 734.2 L203.7 732.2 L204.1 730.3 L204.5 728.3 L204.9 726.3 L205.2 724.4 L205.6 722.4 L206.0 720.5 L206.4 718.5 L206.9 716.5 L207.3 714.6 L207.7 712.6 L208.1 710.7 L208.5 708.7 L209.0 706.8 L209.4 704.8 L209.8 702.9 L210.3 700.9 L210.7 699.0 L211.2 697.0 L211.6 695.1 L212.1 693.1 L212.5 691.2 L213.0 689.2 L213.5 687.3 L213.9 685.3 L214.4 683.4 L214.9 681.5 L215.4 679.5 L215.8 677.6 L216.3 675.6 L216.8 673.7 L217.3 671.8 L217.8 669.8 L218.3 667.9 L218.8 666.0 L219.4 664.0 L219.9 662.1 L220.4 660.2 L220.9 658.3 L221.5 656.3 L222.0 654.4 L222.5 652.5 L223.1 650.6 L223.6 648.6 L224.2 646.7 L224.7 644.8 L225.3 642.9 L225.8 640.9 L226.4 639.0 L227.0 637.1 L227.6 635.2 L228.1 633.3 L228.7 631.4 L229.3 629.5 L229.9 627.6 L230.5 625.6 L231.1 623.7 L231.7 621.8 L232.3 619.9 L232.9 618.0 L233.5 616.1 L234.1 614.2 L234.7 612.3 L235.4 610.4 L236.0 608.5 L236.6 606.6 L237.3 604.7 L237.9 602.8 L238.6 600.9 L239.2 599.1 L239.9 597.2 L240.5 595.3 L241.2 593.4 L241.9 591.5 L242.5 589.6 L243.2 587.7 L243.9 585.9 L244.6 584.0 L245.2 582.1 L245.9 580.2 L246.6 578.4 L247.3 576.5 L248.0 574.6 L248.7 572.7 L249.4 570.9 L250.2 569.0 L250.9 567.1 L251.6 565.3 L252.3 563.4 L253.0 561.5 L253.8 559.7 L254.5 557.8 L255.3 556.0 L256.0 554.1 L256.8 552.3 L257.5 550.4 L258.3 548.6 L259.0 546.7 L259.8 544.9 L260.6 543.0 L261.3 541.2 L262.1 539.3 L262.9 537.5 L263.7 535.7 L264.5 533.8 L265.3 532.0 L266.1 530.2 L266.9 528.3 L267.7 526.5 L268.5 524.7 L269.3 522.8 L270.1 521.0 L271.0 519.2 L271.8 517.4 L272.6 515.6 L273.4 513.7 L274.3 511.9 L275.1 510.1 L276.0 508.3 L276.8 506.5 L277.7 504.7 L278.5 502.9 L279.4 501.1 L280.3 499.3 L281.1 497.5 L282.0 495.7 L282.9 493.9 L283.8 492.1 L284.7 490.3 L285.6 488.5 L286.5 486.7 L287.4 485.0 L288.3 483.2 L289.2 481.4 L290.1 479.6 L291.0 477.8 L291.9 476.1 L292.8 474.3 L293.8 472.5 L294.7 470.7 L295.6 469.0 L296.6 467.2 L297.5 465.5 L298.5 463.7 L299.4 461.9 L300.4 460.2 L301.3 458.4 L302.3 456.7 L303.3 454.9 L304.3 453.2 L305.2 451.4 L306.2 449.7 L307.2 448.0 L308.2 446.2 L309.2 444.5 L310.2 442.8 L311.2 441.0 L312.2 439.3 L313.2 437.6 L314.2 435.8 L315.2 434.1 L316.2 432.4 L317.3 430.7 L318.3 429.0 L319.3 427.3 L320.4 425.6 L321.4 423.9 L322.5 422.2 L323.5 420.4 L324.6 418.8 L325.6 417.1 L326.7 415.4 L327.7 413.7 L328.8 412.0 L329.9 410.3 L331.0 408.6 L332.1 406.9 L333.1 405.3 L334.2 403.6 L335.3 401.9 L336.4 400.2 L337.5 398.6 L338.6 396.9 L339.7 395.2 L340.9 393.6 L342.0 391.9 L343.1 390.3 L344.2 388.6 L345.4 387.0 L346.5 385.3 L347.6 383.7 L348.8 382.0 L349.9 380.4 L351.1 378.8 L352.2 377.1 L353.4 375.5 L354.5 373.9 L355.7 372.3 L356.9 370.6 L358.0 369.0 L359.2 367.4 L360.4 365.8 L361.6 364.2 L362.8 362.6 L364.0 361.0 L365.2 359.4 L366.4 357.8 L367.6 356.2 L368.8 354.6 L370.0 353.0 L371.2 351.4 L372.4 349.8 L373.7 348.3 L374.9 346.7 L376.1 345.1 L377.4 343.5 L378.6 342.0 L379.9 340.4 L381.1 338.8 L382.4 337.3 L383.6 335.7 L384.9 334.2 L386.1 332.6 L387.4 331.1 L388.7 329.5 L390.0 328.0 L391.2 326.5 L392.5 324.9 L393.8 323.4 L395.1 321.9 L396.4 320.4 L397.7 318.9 L399.0 317.3 L400.3 315.8 L401.6 314.3 L403.0 312.8 L404.3 311.3 L405.6 309.8 L406.9 308.3 L408.3 306.8 L409.6 305.3 L410.9 303.9 L412.3 302.4 L413.6 300.9 L415.0 299.4 L416.3 298.0 L417.7 296.5 L419.1 295.0 L420.4 293.6 L421.8 292.1 L423.2 290.7 L424.6 289.2 L425.9 287.8 L427.3 286.4 L428.7 284.9 L430.1 283.5 L431.5 282.1 L432.9 280.6 L434.3 279.2 L435.7 277.8 L437.2 276.4 L438.6 275.0 L440.0 273.6 L441.4 272.2 L442.9 270.8 L444.3 269.4 L445.7 268.0 L447.2 266.6 L448.6 265.2 L450.1 263.9 L451.5 262.5 L453.0 261.1 L454.4 259.8 L455.9 258.4 L457.4 257.0 L458.9 255.7 L460.3 254.4 L461.8 253.0 L463.3 251.7 L464.8 250.3 L466.3 249.0 L467.8 247.7 L469.3 246.4 L470.8 245.1 L472.3 243.7 L473.8 242.4 L475.3 241.1 L476.9 239.8 L478.4 238.5 L479.9 237.3 L481.4 236.0 L483.0 234.7 L484.5 233.4 L486.1 232.1 L487.6 230.9 L489.2 229.6 L490.7 228.4 L492.3 227.1 L493.8 225.9 L495.4 224.6 L497.0 223.4 L498.5 222.2 L500.1 220.9 L501.7 219.7 L503.3 218.5 L504.9 217.3 L506.5 216.1 L508.1 214.9 L509.7 213.7 L511.3 212.5 L512.9 211.3 L514.5 210.1 L516.1 208.9 L517.7 207.8 L519.4 206.6 L521.0 205.4 L522.6 204.3 L524.2 203.1 L525.9 202.0 L527.5 200.8 L529.2 199.7 L530.8 198.6 L532.5 197.4 L534.1 196.3 L535.8 195.2 L537.5 194.1 L539.1 193.0 L540.8 191.9 L542.5 190.8 L544.1 189.7 L545.8 188.6 L547.5 187.6 L549.2 186.5 L550.9 185.4 L552.6 184.4 L554.3 183.3 L556.0 182.3 L557.7 181.2 L559.4 180.2 L561.1 179.2 L562.8 178.2 L564.6 177.1 L566.3 176.1 L568.0 175.1 L569.7 174.1 L571.5 173.1 L573.2 172.1 L575.0 171.2 L576.7 170.2 L578.5 169.2 L580.2 168.3 L582.0 167.3 L583.7 166.4 L585.5 165.4 L587.2 164.5 L589.0 163.5 L590.8 162.6 L592.6 161.7 L594.3 160.8 L596.1 159.9 L597.9 159.0 L599.7 158.1 L601.5 157.2 L603.3 156.3 L605.1 155.4 L606.9 154.6 L608.7 153.7 L610.5 152.9 L612.3 152.0 L614.1 151.2 L615.9 150.3 L617.7 149.5 L619.6 148.7 L621.4 147.8 L623.2 147.0 L625.0 146.2 L626.9 145.4 L628.7 144.6 L630.6 143.8 L632.4 143.1 L634.2 142.3 L636.1 141.5 L637.9 140.8 L639.8 140.0 L641.6 139.2 L643.5 138.5 L645.3 137.8 L647.2 137.0 L649.1 136.3 L650.9 135.6 L652.8 134.9 L654.7 134.1 L656.5 133.4 L658.4 132.7 L660.3 132.0 L662.1 131.4 L664.0 130.7 L665.9 130.0 L667.8 129.3 L669.7 128.6 L671.6 128.0 L673.5 127.3 L675.3 126.7 L677.2 126.0 L679.1 125.4 L681.0 124.8 L682.9 124.1 L684.8 123.5 L686.7 122.9 L688.6 122.3 L690.5 121.7 L692.4 121.1 L694.3 120.5 L696.2 119.9 L698.2 119.3 L700.1 118.7 L702.0 118.1 L703.9 117.6 L705.8 117.0 L707.7 116.4 L709.7 115.9 L711.6 115.3 L713.5 114.8 L715.4 114.2 L717.3 113.7 L719.3 113.2 L721.2 112.6 L723.1 112.1 L725.1 111.6 L727.0 111.1 L728.9 110.6 L730.9 110.0 L732.8 109.5 L734.7 109.0 L736.7 108.6 L738.6 108.1 L740.5 107.6 L742.5 107.1 L744.4 106.6 L746.4 106.2 L748.3 105.7 L750.3 105.2 L752.2 104.8 L754.2 104.3 L756.1 103.9 L758.1 103.4 L760.0 103.0 L762.0 102.6 L763.9 102.1 L765.9 101.7 L767.8 101.3 L769.8 100.9 L771.7 100.4 L773.7 100.0 L775.6 99.6 L777.6 99.2 L779.6 98.8 L781.5 98.4 L783.5 98.0 L785.4 97.6 L787.4 97.3 L789.4 96.9 L791.3 96.5 L793.3 96.1 L795.2 95.8 L797.2 95.4 L799.2 95.0 L801.1 94.7 L803.1 94.3 L805.1 94.0 L807.1 93.6 L809.0 93.3 L811.0 92.9 L813.0 92.6 L814.9 92.3 L816.9 91.9 L818.9 91.6 L820.8 91.3 L822.8 91.0 L824.8 90.7 L826.8 90.3 L828.7 90.0 L830.7 89.7 L832.7 89.4 L834.7 89.1 L836.6 88.8 L838.6 88.5 L840.6 88.2 L842.6 87.9 L844.6 87.7 L846.5 87.4 L848.5 87.1 L850.5 86.8 L852.5 86.5 L854.5 86.3 L856.4 86.0 L858.4 85.7 L860.4 85.5 L862.4 85.2 L864.4 85.0 L866.3 84.7 L868.3 84.5 L870.3 84.2 L872.3 84.0 L874.3 83.7 L876.3 83.5 L878.3 83.2 L880.2 83.0 L882.2 82.8 L884.2 82.5 L886.2 82.3 L888.2 82.1 L890.2 81.9 L892.2 81.6 L894.1 81.4 L896.1 81.2 L898.1 81.0 L900.1 80.8 L902.1 80.6 L904.1 80.4 L906.1 80.2 L908.1 80.0 L910.0 79.8 L912.0 79.6 L914.0 79.4 L916.0 79.2 L918.0 79.0 L920.0 78.8 L922.0 78.6 L924.0 78.4 L926.0 78.2 L928.0 78.0 L929.9 77.9 L931.9 77.7 L933.9 77.5 L935.9 77.3 L937.9 77.2 L939.9 77.0 L941.9 76.8 L943.9 76.7 L945.9 76.5 L947.9 76.3 L949.9 76.2 L951.9 76.0 L953.9 75.9 L955.8 75.7 L957.8 75.6 L959.8 75.4 L961.8 75.2 L963.8 75.1 L965.8 75.0 L967.8 74.8 L969.8 74.7 L971.8 74.5 L973.8 74.4 L975.8 74.2 L977.8 74.1 L979.8 74.0 L981.8 73.8 L983.8 73.7 L985.8 73.6 L987.7 73.4 L989.7 73.3 L991.7 73.2 L993.7 73.1 L995.7 72.9 L997.7 72.8 L999.7 72.7 L1001.7 72.6 L1003.7 72.5 L1005.7 72.3 L1007.7 72.2 L1009.7 72.1 L1011.7 72.0 L1013.7 71.9 L1015.7 71.8 L1017.7 71.7 L1019.7 71.6 L1021.7 71.5 L1023.7 71.4 L1025.7 71.3 L1027.7 71.2 L1029.7 71.1 L1031.7 71.0 L1033.7 70.9 L1035.7 70.8 L1037.6 70.7 L1039.6 70.6 L1041.6 70.5 L1043.6 70.4 L1045.6 70.3 L1047.6 70.3 L1049.6 70.2 L1051.6 70.1 L1053.6 70.0 L1055.6 69.9 L1057.6 69.9 L1059.6 69.8 L1061.6 69.7 L1063.6 69.6 L1065.6 69.6 L1067.6 69.5 L1069.6 69.4 L1071.6 69.4 L1073.6 69.3 L1075.6 69.2 L1077.6 69.2 L1079.6 69.1 L1081.6 69.0 L1083.6 69.0 L1085.6 68.9 L1087.6 68.8 L1089.6 68.8 L1091.6 68.7 L1093.6 68.7 L1095.6 68.6 L1097.6 68.6 L1099.6 68.5 L1101.6 68.5 L1103.6 68.4 L1105.6 68.4 L1107.6 68.3 L1109.6 68.3 L1111.6 68.2 L1113.6 68.2 L1115.6 68.2 L1117.6 68.1 L1119.6 68.1 L1121.6 68.0 L1123.6 68.0 L1125.6 68.0 L1127.6 67.9 L1129.6 67.9 L1131.6 67.9 L1133.6 67.8 L1135.6 67.8 L1137.6 67.8 L1139.6 67.7 L1141.6 67.7 L1143.6 67.7 L1145.5 67.7 L1147.5 67.6 L1149.5 67.6 L1151.5 67.6 L1153.5 67.6 L1155.5 67.6 L1157.5 67.5 L1159.5 67.5 L1161.5 67.5 L1163.5 67.5 L1165.5 67.5 L1167.5 67.5 L1169.5 67.4 L1171.5 67.4 L1173.5 67.4 L1175.5 67.4 L1177.5 67.4 L1179.5 67.4 L1181.5 67.4 L1183.5 67.4 L1185.5 67.4 L1187.5 67.4 L1189.5 67.3 L1191.5 67.3 L1193.5 67.3 L1195.5 67.3 L1197.5 67.3 L1199.5 67.3 L1201.5 67.3 L1203.5 67.3 L1205.5 67.3 L1207.5 67.3 L1209.5 67.3 L1211.5 67.3 L1213.5 67.3 L1215.5 67.3 L1217.5 67.3 L1219.5 67.3 L1221.5 67.3 L1223.5 67.3 L1225.5 67.3 L1227.5 67.3 L1229.5 67.3 L1231.5 67.3 L1233.5 67.3 L1235.5 67.3 L1237.5 67.3 L1239.5 67.3 L1241.5 67.3 L1243.5 67.3" stroke="#ffff00" stroke-width="3.0" fill="none" stroke-linejoin="round"/>
<rect x="143" y="54" width="3" height="974" fill="#1e1e1e"/>
<rect x="146" y="54" width="3" height="971" fill="#9c9c9c"/>
<rect x="143" y="51" width="3" height="3" fill="#999"/>
<rect x="146" y="1025" width="1212" height="3" fill="#1e1e1e"/>
<rect x="146" y="1028" width="1212" height="3" fill="#9c9c9c"/>
<rect x="143" y="1028" width="3" height="3" fill="#e0e0e0"/>
<rect x="386.8" y="1007" width="3" height="18" fill="#1e1e1e"/>
<rect x="629.0" y="1007" width="3" height="18" fill="#1e1e1e"/>
<rect x="872.0" y="1007" width="3" height="18" fill="#1e1e1e"/>
<rect x="1114.2" y="1007" width="3" height="18" fill="#1e1e1e"/>
<rect x="1355" y="1007" width="3" height="18" fill="#8a8a8a"/><rect x="1358" y="1007" width="3" height="21" fill="#404040"/>
<rect x="146" y="51.0" width="18" height="3" fill="#1e1e1e"/>
<rect x="149" y="54.0" width="15" height="3" fill="#9c9c9c"/>
<rect x="146" y="375.5" width="18" height="3" fill="#1e1e1e"/>
<rect x="149" y="378.5" width="15" height="3" fill="#9c9c9c"/>
<rect x="146" y="700.2" width="18" height="3" fill="#1e1e1e"/>
<rect x="149" y="703.2" width="15" height="3" fill="#9c9c9c"/>
<text transform="translate(144.8,1080.5) scale(0.95,1)" text-anchor="middle" class="tk">0.0</text>
<text transform="translate(388.3,1080.5) scale(0.95,1)" text-anchor="middle" class="tk">0.5</text>
<text transform="translate(630.5,1080.5) scale(0.95,1)" text-anchor="middle" class="tk">1.0</text>
<text transform="translate(873.5,1080.5) scale(0.95,1)" text-anchor="middle" class="tk">1.5</text>
<text transform="translate(1115.7,1080.5) scale(0.95,1)" text-anchor="middle" class="tk">2.0</text>
<text transform="translate(1358.0,1080.5) scale(0.95,1)" text-anchor="middle" class="tk">2.5</text>
<text x="125" y="65.5" text-anchor="end" class="tk">6</text>
<text x="125" y="390.0" text-anchor="end" class="tk">4</text>
<text x="125" y="714.7" text-anchor="end" class="tk">2</text>
<text x="125" y="1039.5" text-anchor="end" class="tk">0</text>
<text x="752" y="1134.5" text-anchor="middle" class="ax">COT</text>
<text transform="translate(81.8,632.5) rotate(-90)" class="ax" style="font-size:52px"><tspan font-style="italic">U</tspan><tspan font-size="36" dy="-19" dx="-2">*</tspan><tspan dy="19" dx="-2">(BL/s)</tspan></text>
<svg x="1096" y="565" width="250" height="435" viewBox="1096 565 250 435" overflow="hidden">
<rect x="1096" y="593.3" width="117.5" height="6" fill="#000000" fill-opacity="0.5"/><rect x="1096" y="594.6" width="116" height="3.4" fill="#000000"/>
<text x="1223.5" y="614.1" class="lg">1Hz</text>
<rect x="1096" y="655.6" width="117.5" height="6" fill="#ff0000" fill-opacity="0.5"/><rect x="1096" y="656.9" width="116" height="3.4" fill="#ff0000"/>
<text x="1223.5" y="676.4" class="lg">1.5Hz</text>
<rect x="1096" y="718.0" width="117.5" height="6" fill="#00ff00" fill-opacity="0.5"/><rect x="1096" y="719.3" width="116" height="3.4" fill="#00ff00"/>
<text x="1223.5" y="738.8" class="lg">2Hz</text>
<rect x="1096" y="780.3" width="117.5" height="6" fill="#0000ff" fill-opacity="0.5"/><rect x="1096" y="781.6" width="116" height="3.4" fill="#0000ff"/>
<text x="1223.5" y="801.1" class="lg">2.5Hz</text>
<rect x="1096" y="842.6" width="117.5" height="6" fill="#00ffff" fill-opacity="0.5"/><rect x="1096" y="843.9" width="116" height="3.4" fill="#00ffff"/>
<text x="1223.5" y="863.4" class="lg">3Hz</text>
<rect x="1096" y="904.9" width="117.5" height="6" fill="#ff00ff" fill-opacity="0.5"/><rect x="1096" y="906.2" width="116" height="3.4" fill="#ff00ff"/>
<text x="1223.5" y="925.7" class="lg">3.5Hz</text>
<rect x="1096" y="967.3" width="117.5" height="6" fill="#ffff00" fill-opacity="0.5"/><rect x="1096" y="968.6" width="116" height="3.4" fill="#ffff00"/>
<text x="1223.5" y="988.1" class="lg">4Hz</text>
</svg>
<rect x="1097.5" y="567" width="250" height="431.5" fill="none" stroke="#8c8c8c" stroke-width="3"/>
<rect x="1096" y="565" width="253" height="3" fill="#cfcfcf"/>
<rect x="1099" y="568" width="247" height="2.5" fill="#b4b4b4"/>
</svg>
</body></html>
